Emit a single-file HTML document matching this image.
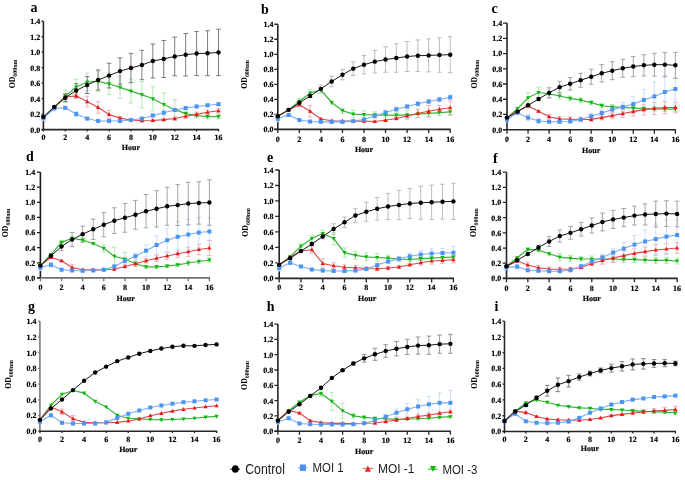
<!DOCTYPE html>
<html><head><meta charset="utf-8"><style>
html,body{margin:0;padding:0;background:#fff;width:685px;height:480px;overflow:hidden;}
svg{display:block;will-change:transform;}
.pl{font-family:"Liberation Serif",serif;font-weight:bold;font-size:14px;}
.tl{font-family:"Liberation Serif",serif;font-weight:bold;font-size:8px;text-rendering:geometricPrecision;stroke:#000;stroke-width:0.18px;}
.od{font-family:"Liberation Serif",serif;font-weight:bold;font-size:7.8px;}
.sub{font-size:5.9px;}
.lg{font-family:"Liberation Sans",sans-serif;font-size:13.3px;fill:#1a1a1a;}
</style></head><body>
<svg width="685" height="480" viewBox="0 0 685 480">
<rect width="685" height="480" fill="#fff"/>
<g><text x="30.5" y="12" class="pl">a</text><path d="M43.4 21.25V129.6" stroke="#262626" stroke-width="1.6" fill="none"/><path d="M41.6 129.6H219.1" stroke="#262626" stroke-width="1.6" fill="none"/><path d="M41.6 129.6H43.4M41.6 114.12H43.4M41.6 98.64H43.4M41.6 83.16H43.4M41.6 67.69H43.4M41.6 52.21H43.4M41.6 36.73H43.4M41.6 21.25H43.4" stroke="#262626" stroke-width="1.3" fill="none"/><path d="M43.4 129.6V131.4M65.29 129.6V131.4M87.17 129.6V131.4M109.06 129.6V131.4M130.95 129.6V131.4M152.84 129.6V131.4M174.72 129.6V131.4M196.61 129.6V131.4M218.5 129.6V131.4" stroke="#262626" stroke-width="1.3" fill="none"/><text transform="translate(40.3 132.5) scale(1 1)" class="tl" text-anchor="end">0.0</text><text transform="translate(40.3 117.02) scale(1 1)" class="tl" text-anchor="end">0.2</text><text transform="translate(40.3 101.54) scale(1 1)" class="tl" text-anchor="end">0.4</text><text transform="translate(40.3 86.06) scale(1 1)" class="tl" text-anchor="end">0.6</text><text transform="translate(40.3 70.59) scale(1 1)" class="tl" text-anchor="end">0.8</text><text transform="translate(40.3 55.11) scale(1 1)" class="tl" text-anchor="end">1.0</text><text transform="translate(40.3 39.63) scale(1 1)" class="tl" text-anchor="end">1.2</text><text transform="translate(40.3 24.15) scale(1 1)" class="tl" text-anchor="end">1.4</text><text transform="translate(43.4 139.7) scale(1 1)" class="tl" text-anchor="middle">0</text><text transform="translate(65.29 139.7) scale(1 1)" class="tl" text-anchor="middle">2</text><text transform="translate(87.17 139.7) scale(1 1)" class="tl" text-anchor="middle">4</text><text transform="translate(109.06 139.7) scale(1 1)" class="tl" text-anchor="middle">6</text><text transform="translate(130.95 139.7) scale(1 1)" class="tl" text-anchor="middle">8</text><text transform="translate(152.84 139.7) scale(1 1)" class="tl" text-anchor="middle">10</text><text transform="translate(174.72 139.7) scale(1 1)" class="tl" text-anchor="middle">12</text><text transform="translate(196.61 139.7) scale(1 1)" class="tl" text-anchor="middle">14</text><text transform="translate(218.5 139.7) scale(1 1)" class="tl" text-anchor="middle">16</text><text transform="translate(130.95 150) scale(1 1)" class="tl" text-anchor="middle">Hour</text><text transform="translate(15.2 73.97) rotate(-90)" class="od" text-anchor="middle">OD<tspan class="sub" dy="1.9">600nm</tspan></text><path d="M43.4 115.79V118.88M41.1 115.79H45.7M41.1 118.88H45.7M54.34 105.74V108.83M52.04 105.74H56.64M52.04 108.83H56.64M65.29 90.05V102.42M62.99 90.05H67.59M62.99 102.42H67.59M76.23 79.31V94.77M73.93 79.31H78.53M73.93 94.77H78.53M87.17 73.13V90.9M84.88 73.13H89.47M84.88 90.9H89.47M98.12 71.27V91.37M95.82 71.27H100.42M95.82 91.37H100.42M109.06 72.97V94.61M106.76 72.97H111.36M106.76 94.61H111.36M120.01 76.6V98.24M117.71 76.6H122.31M117.71 98.24H122.31M130.95 79.08V103.04M128.65 79.08H133.25M128.65 103.04H133.25M141.89 81.55V107.83M139.59 81.55H144.19M139.59 107.83H144.19M152.84 86.81V110.76M150.54 86.81H155.14M150.54 110.76H155.14M163.78 92.91V116.1M161.48 92.91H166.08M161.48 116.1H166.08M174.72 99.64V119.73M172.42 99.64H177.03M172.42 119.73H177.03M185.67 111.31V115.94M183.37 111.31H187.97M183.37 115.94H187.97M196.61 113.16V117.8M194.31 113.16H198.91M194.31 117.8H198.91M207.56 114.24V118.88M205.26 114.24H209.86M205.26 118.88H209.86M218.5 114.24V118.88M216.2 114.24H220.8M216.2 118.88H220.8" stroke="#ace6ac" stroke-width="0.9" fill="none"/><path d="M43.4 115.79V118.88M41.1 115.79H45.7M41.1 118.88H45.7M54.34 106.51V108.06M52.04 106.51H56.64M52.04 108.06H56.64M65.29 94.69V99.33M62.99 94.69H67.59M62.99 99.33H67.59M76.23 93.14V98.55M73.93 93.14H78.53M73.93 98.55H78.53M87.17 96.16V106.98M84.88 96.16H89.47M84.88 106.98H89.47M98.12 101.65V113.24M95.82 101.65H100.42M95.82 113.24H100.42M109.06 110.61V118.34M106.76 110.61H111.36M106.76 118.34H111.36M120.01 116.56V119.65M117.71 116.56H122.31M117.71 119.65H122.31M130.95 119.27V120.81M128.65 119.27H133.25M128.65 120.81H133.25M141.89 120.04V121.58M139.59 120.04H144.19M139.59 121.58H144.19M152.84 119.65V121.2M150.54 119.65H155.14M150.54 121.2H155.14M163.78 118.88V120.43M161.48 118.88H166.08M161.48 120.43H166.08M174.72 117.03V120.12M172.42 117.03H177.03M172.42 120.12H177.03M185.67 113.93V118.57M183.37 113.93H187.97M183.37 118.57H187.97M196.61 112.08V116.72M194.31 112.08H198.91M194.31 116.72H198.91M207.56 109.99V114.63M205.26 109.99H209.86M205.26 114.63H209.86M218.5 108.45V113.08M216.2 108.45H220.8M216.2 113.08H220.8" stroke="#f0a8b0" stroke-width="0.9" fill="none"/><path d="M43.4 115.79V120.43M41.1 115.79H45.7M41.1 120.43H45.7M54.34 107.75V109.3M52.04 107.75H56.64M52.04 109.3H56.64M65.29 107.06V108.6M62.99 107.06H67.59M62.99 108.6H67.59M76.23 111.69V116.33M73.93 111.69H78.53M73.93 116.33H78.53M87.17 117.8V119.34M84.88 117.8H89.47M84.88 119.34H89.47M98.12 120.19V121.74M95.82 120.19H100.42M95.82 121.74H100.42M109.06 120.19V121.74M106.76 120.19H111.36M106.76 121.74H111.36M120.01 120.19V121.74M117.71 120.19H122.31M117.71 121.74H122.31M130.95 119.27V120.81M128.65 119.27H133.25M128.65 120.81H133.25M141.89 117.8V119.34M139.59 117.8H144.19M139.59 119.34H144.19M152.84 113.93V117.03M150.54 113.93H155.14M150.54 117.03H155.14M163.78 111.15V114.24M161.48 111.15H166.08M161.48 114.24H166.08M174.72 108.45V111.54M172.42 108.45H177.03M172.42 111.54H177.03M185.67 106.51V109.61M183.37 106.51H187.97M183.37 109.61H187.97M196.61 104.97V108.06M194.31 104.97H198.91M194.31 108.06H198.91M207.56 103.73V106.82M205.26 103.73H209.86M205.26 106.82H209.86M218.5 102.65V105.74M216.2 102.65H220.8M216.2 105.74H220.8" stroke="#c4daf6" stroke-width="0.9" fill="none"/><path d="M43.4 115.32V118.42M41.1 115.32H45.7M41.1 118.42H45.7M54.34 106.13V107.67M52.04 106.13H56.64M52.04 107.67H56.64M65.29 93.84V101.57M62.99 93.84H67.59M62.99 101.57H67.59M76.23 83.72V97.16M73.93 83.72H78.53M73.93 97.16H78.53M87.17 76.53V93.53M84.88 76.53H89.47M84.88 93.53H89.47M98.12 69.88V89.98M95.82 69.88H100.42M95.82 89.98H100.42M109.06 63.23V87.97M106.76 63.23H111.36M106.76 87.97H111.36M120.01 57.98V84.26M117.71 57.98H122.31M117.71 84.26H122.31M130.95 53.34V82.71M128.65 53.34H133.25M128.65 82.71H133.25M141.89 50.33V79.7M139.59 50.33H144.19M139.59 79.7H144.19M152.84 43.99V78M150.54 43.99H155.14M150.54 78H155.14M163.78 40.44V77.53M161.48 40.44H166.08M161.48 77.53H166.08M174.72 37.11V75.75M172.42 37.11H177.03M172.42 75.75H177.03M185.67 33.48V75.99M183.37 33.48H187.97M183.37 75.99H187.97M196.61 31.55V75.6M194.31 31.55H198.91M194.31 75.6H198.91M207.56 30.77V75.6M205.26 30.77H209.86M205.26 75.6H209.86M218.5 29.23V75.6M216.2 29.23H220.8M216.2 75.6H220.8" stroke="#6e6e6e" stroke-width="0.9" fill="none"/><polyline points="43.4,117.33 54.34,107.29 65.29,96.24 76.23,87.04 87.17,82.01 98.12,81.32 109.06,83.79 120.01,87.42 130.95,91.06 141.89,94.69 152.84,98.79 163.78,104.5 174.72,109.68 185.67,113.62 196.61,115.48 207.56,116.56 218.5,116.56" stroke="#3cb43c" stroke-width="1.2" fill="none"/><path d="M43.4 119.67L45.5 115.77L41.3 115.77Z" fill="#0cb80c"/><path d="M54.34 109.63L56.44 105.73L52.24 105.73Z" fill="#0cb80c"/><path d="M65.29 98.58L67.39 94.68L63.19 94.68Z" fill="#0cb80c"/><path d="M76.23 89.38L78.33 85.48L74.13 85.48Z" fill="#0cb80c"/><path d="M87.17 84.35L89.27 80.45L85.08 80.45Z" fill="#0cb80c"/><path d="M98.12 83.66L100.22 79.76L96.02 79.76Z" fill="#0cb80c"/><path d="M109.06 86.13L111.16 82.23L106.96 82.23Z" fill="#0cb80c"/><path d="M120.01 89.76L122.11 85.86L117.91 85.86Z" fill="#0cb80c"/><path d="M130.95 93.4L133.05 89.5L128.85 89.5Z" fill="#0cb80c"/><path d="M141.89 97.03L143.99 93.13L139.79 93.13Z" fill="#0cb80c"/><path d="M152.84 101.13L154.94 97.23L150.74 97.23Z" fill="#0cb80c"/><path d="M163.78 106.84L165.88 102.94L161.68 102.94Z" fill="#0cb80c"/><path d="M174.72 112.02L176.82 108.12L172.62 108.12Z" fill="#0cb80c"/><path d="M185.67 115.96L187.77 112.06L183.57 112.06Z" fill="#0cb80c"/><path d="M196.61 117.82L198.71 113.92L194.51 113.92Z" fill="#0cb80c"/><path d="M207.56 118.9L209.66 115L205.46 115Z" fill="#0cb80c"/><path d="M218.5 118.9L220.6 115L216.4 115Z" fill="#0cb80c"/><polyline points="43.4,117.33 54.34,107.29 65.29,97.01 76.23,95.85 87.17,101.57 98.12,107.44 109.06,114.47 120.01,118.11 130.95,120.04 141.89,120.81 152.84,120.43 163.78,119.65 174.72,118.57 185.67,116.25 196.61,114.4 207.56,112.31 218.5,110.76" stroke="#d84848" stroke-width="1.1" fill="none"/><path d="M43.4 114.99L45.5 118.89L41.3 118.89Z" fill="#f01414"/><path d="M54.34 104.95L56.44 108.85L52.24 108.85Z" fill="#f01414"/><path d="M65.29 94.67L67.39 98.57L63.19 98.57Z" fill="#f01414"/><path d="M76.23 93.51L78.33 97.41L74.13 97.41Z" fill="#f01414"/><path d="M87.17 99.23L89.27 103.13L85.08 103.13Z" fill="#f01414"/><path d="M98.12 105.1L100.22 109L96.02 109Z" fill="#f01414"/><path d="M109.06 112.13L111.16 116.03L106.96 116.03Z" fill="#f01414"/><path d="M120.01 115.77L122.11 119.67L117.91 119.67Z" fill="#f01414"/><path d="M130.95 117.7L133.05 121.6L128.85 121.6Z" fill="#f01414"/><path d="M141.89 118.47L143.99 122.37L139.79 122.37Z" fill="#f01414"/><path d="M152.84 118.09L154.94 121.99L150.74 121.99Z" fill="#f01414"/><path d="M163.78 117.31L165.88 121.21L161.68 121.21Z" fill="#f01414"/><path d="M174.72 116.23L176.82 120.13L172.62 120.13Z" fill="#f01414"/><path d="M185.67 113.91L187.77 117.81L183.57 117.81Z" fill="#f01414"/><path d="M196.61 112.06L198.71 115.96L194.51 115.96Z" fill="#f01414"/><path d="M207.56 109.97L209.66 113.87L205.46 113.87Z" fill="#f01414"/><path d="M218.5 108.42L220.6 112.32L216.4 112.32Z" fill="#f01414"/><polyline points="43.4,118.11 54.34,108.52 65.29,107.83 76.23,114.01 87.17,118.57 98.12,120.97 109.06,120.97 120.01,120.97 130.95,120.04 141.89,118.57 152.84,115.48 163.78,112.7 174.72,109.99 185.67,108.06 196.61,106.51 207.56,105.28 218.5,104.2" stroke="#78acee" stroke-width="1.1" fill="none"/><rect x="41.4" y="116.11" width="4.0" height="4.0" fill="#4b94f2"/><rect x="52.34" y="106.52" width="4.0" height="4.0" fill="#4b94f2"/><rect x="63.29" y="105.83" width="4.0" height="4.0" fill="#4b94f2"/><rect x="74.23" y="112.01" width="4.0" height="4.0" fill="#4b94f2"/><rect x="85.17" y="116.57" width="4.0" height="4.0" fill="#4b94f2"/><rect x="96.12" y="118.97" width="4.0" height="4.0" fill="#4b94f2"/><rect x="107.06" y="118.97" width="4.0" height="4.0" fill="#4b94f2"/><rect x="118.01" y="118.97" width="4.0" height="4.0" fill="#4b94f2"/><rect x="128.95" y="118.04" width="4.0" height="4.0" fill="#4b94f2"/><rect x="139.89" y="116.57" width="4.0" height="4.0" fill="#4b94f2"/><rect x="150.84" y="113.48" width="4.0" height="4.0" fill="#4b94f2"/><rect x="161.78" y="110.7" width="4.0" height="4.0" fill="#4b94f2"/><rect x="172.72" y="107.99" width="4.0" height="4.0" fill="#4b94f2"/><rect x="183.67" y="106.06" width="4.0" height="4.0" fill="#4b94f2"/><rect x="194.61" y="104.51" width="4.0" height="4.0" fill="#4b94f2"/><rect x="205.56" y="103.28" width="4.0" height="4.0" fill="#4b94f2"/><rect x="216.5" y="102.2" width="4.0" height="4.0" fill="#4b94f2"/><polyline points="43.4,116.87 54.34,106.9 65.29,97.7 76.23,90.44 87.17,85.03 98.12,79.93 109.06,75.6 120.01,71.12 130.95,68.03 141.89,65.01 152.84,60.99 163.78,58.98 174.72,56.43 185.67,54.73 196.61,53.57 207.56,53.19 218.5,52.41" stroke="#1a1a1a" stroke-width="1.0" fill="none"/><circle cx="43.4" cy="116.87" r="2.2" fill="#000000"/><circle cx="54.34" cy="106.9" r="2.2" fill="#000000"/><circle cx="65.29" cy="97.7" r="2.2" fill="#000000"/><circle cx="76.23" cy="90.44" r="2.2" fill="#000000"/><circle cx="87.17" cy="85.03" r="2.2" fill="#000000"/><circle cx="98.12" cy="79.93" r="2.2" fill="#000000"/><circle cx="109.06" cy="75.6" r="2.2" fill="#000000"/><circle cx="120.01" cy="71.12" r="2.2" fill="#000000"/><circle cx="130.95" cy="68.03" r="2.2" fill="#000000"/><circle cx="141.89" cy="65.01" r="2.2" fill="#000000"/><circle cx="152.84" cy="60.99" r="2.2" fill="#000000"/><circle cx="163.78" cy="58.98" r="2.2" fill="#000000"/><circle cx="174.72" cy="56.43" r="2.2" fill="#000000"/><circle cx="185.67" cy="54.73" r="2.2" fill="#000000"/><circle cx="196.61" cy="53.57" r="2.2" fill="#000000"/><circle cx="207.56" cy="53.19" r="2.2" fill="#000000"/><circle cx="218.5" cy="52.41" r="2.2" fill="#000000"/></g>
<g><text x="261" y="13.6" class="pl">b</text><path d="M277.8 24.25V129.4" stroke="#262626" stroke-width="1.6" fill="none"/><path d="M274.3 129.4H450.8" stroke="#262626" stroke-width="1.6" fill="none"/><path d="M274.3 129.4H277.8M274.3 114.38H277.8M274.3 99.36H277.8M274.3 84.34H277.8M274.3 69.31H277.8M274.3 54.29H277.8M274.3 39.27H277.8M274.3 24.25H277.8" stroke="#262626" stroke-width="1.3" fill="none"/><path d="M277.8 129.4V132.9M299.35 129.4V132.9M320.9 129.4V132.9M342.45 129.4V132.9M364 129.4V132.9M385.55 129.4V132.9M407.1 129.4V132.9M428.65 129.4V132.9M450.2 129.4V132.9" stroke="#262626" stroke-width="1.3" fill="none"/><text transform="translate(273.4 132.3) scale(1 1)" class="tl" text-anchor="end">0.0</text><text transform="translate(273.4 117.28) scale(1 1)" class="tl" text-anchor="end">0.2</text><text transform="translate(273.4 102.26) scale(1 1)" class="tl" text-anchor="end">0.4</text><text transform="translate(273.4 87.24) scale(1 1)" class="tl" text-anchor="end">0.6</text><text transform="translate(273.4 72.21) scale(1 1)" class="tl" text-anchor="end">0.8</text><text transform="translate(273.4 57.19) scale(1 1)" class="tl" text-anchor="end">1.0</text><text transform="translate(273.4 42.17) scale(1 1)" class="tl" text-anchor="end">1.2</text><text transform="translate(273.4 27.15) scale(1 1)" class="tl" text-anchor="end">1.4</text><text transform="translate(277.8 141.5) scale(1 1)" class="tl" text-anchor="middle">0</text><text transform="translate(299.35 141.5) scale(1 1)" class="tl" text-anchor="middle">2</text><text transform="translate(320.9 141.5) scale(1 1)" class="tl" text-anchor="middle">4</text><text transform="translate(342.45 141.5) scale(1 1)" class="tl" text-anchor="middle">6</text><text transform="translate(364 141.5) scale(1 1)" class="tl" text-anchor="middle">8</text><text transform="translate(385.55 141.5) scale(1 1)" class="tl" text-anchor="middle">10</text><text transform="translate(407.1 141.5) scale(1 1)" class="tl" text-anchor="middle">12</text><text transform="translate(428.65 141.5) scale(1 1)" class="tl" text-anchor="middle">14</text><text transform="translate(450.2 141.5) scale(1 1)" class="tl" text-anchor="middle">16</text><text transform="translate(364 151.5) scale(1 1)" class="tl" text-anchor="middle">Hour</text><text transform="translate(247 74.42) rotate(-90)" class="od" text-anchor="middle">OD<tspan class="sub" dy="1.9">600nm</tspan></text><path d="M277.8 114.78V117.78M275.5 114.78H280.1M275.5 117.78H280.1M288.57 109.15V110.65M286.27 109.15H290.88M286.27 110.65H290.88M299.35 98.28V104.28M297.05 98.28H301.65M297.05 104.28H301.65M310.12 89.28V96.78M307.82 89.28H312.43M307.82 96.78H312.43M320.9 87.03V93.03M318.6 87.03H323.2M318.6 93.03H323.2M331.68 100.98V103.98M329.38 100.98H333.98M329.38 103.98H333.98M342.45 108.03V113.28M340.15 108.03H344.75M340.15 113.28H344.75M353.23 110.28V117.78M350.93 110.28H355.53M350.93 117.78H355.53M364 110.8V118.3M361.7 110.8H366.3M361.7 118.3H366.3M374.77 111.78V117.78M372.47 111.78H377.07M372.47 117.78H377.07M385.55 112.9V117.4M383.25 112.9H387.85M383.25 117.4H387.85M396.32 112.9V117.4M394.02 112.9H398.62M394.02 117.4H398.62M407.1 110.65V119.65M404.8 110.65H409.4M404.8 119.65H409.4M417.88 110.28V117.78M415.57 110.28H420.18M415.57 117.78H420.18M428.65 110.28V116.28M426.35 110.28H430.95M426.35 116.28H430.95M439.42 109.53V115.53M437.12 109.53H441.72M437.12 115.53H441.72M450.2 108.03V115.53M447.9 108.03H452.5M447.9 115.53H452.5" stroke="#ace6ac" stroke-width="0.9" fill="none"/><path d="M277.8 114.78V117.78M275.5 114.78H280.1M275.5 117.78H280.1M288.57 109.15V110.65M286.27 109.15H290.88M286.27 110.65H290.88M299.35 102.4V106.9M297.05 102.4H301.65M297.05 106.9H301.65M310.12 105.62V116.88M307.82 105.62H312.43M307.82 116.88H312.43M320.9 118.23V119.73M318.6 118.23H323.2M318.6 119.73H323.2M331.68 120.03V121.53M329.38 120.03H333.98M329.38 121.53H333.98M342.45 120.4V121.9M340.15 120.4H344.75M340.15 121.9H344.75M353.23 120.4V121.9M350.93 120.4H355.53M350.93 121.9H355.53M364 120.4V121.9M361.7 120.4H366.3M361.7 121.9H366.3M374.77 120.78V122.28M372.47 120.78H377.07M372.47 122.28H377.07M385.55 119.58V121.08M383.25 119.58H387.85M383.25 121.08H387.85M396.32 117.03V120.03M394.02 117.03H398.62M394.02 120.03H398.62M407.1 113.73V118.23M404.8 113.73H409.4M404.8 118.23H409.4M417.88 109V117.55M415.57 109H420.18M415.57 117.55H420.18M428.65 105.55V117.1M426.35 105.55H430.95M426.35 117.1H430.95M439.42 105.48V112.98M437.12 105.48H441.72M437.12 112.98H441.72M450.2 100.98V114.48M447.9 100.98H452.5M447.9 114.48H452.5" stroke="#f0a8b0" stroke-width="0.9" fill="none"/><path d="M277.8 115.75V121.75M275.5 115.75H280.1M275.5 121.75H280.1M288.57 113.43V116.43M286.27 113.43H290.88M286.27 116.43H290.88M299.35 119.28V120.78M297.05 119.28H301.65M297.05 120.78H301.65M310.12 120.78V122.28M307.82 120.78H312.43M307.82 122.28H312.43M320.9 121.08V122.58M318.6 121.08H323.2M318.6 122.58H323.2M331.68 121.15V122.65M329.38 121.15H333.98M329.38 122.65H333.98M342.45 121.15V122.65M340.15 121.15H344.75M340.15 122.65H344.75M353.23 120.4V121.9M350.93 120.4H355.53M350.93 121.9H355.53M364 118.08V121.08M361.7 118.08H366.3M361.7 121.08H366.3M374.77 113.73V118.23M372.47 113.73H377.07M372.47 118.23H377.07M385.55 110.28V114.78M383.25 110.28H387.85M383.25 114.78H387.85M396.32 106.97V111.48M394.02 106.97H398.62M394.02 111.48H398.62M407.1 104.28V108.78M404.8 104.28H409.4M404.8 108.78H409.4M417.88 101.58V106.08M415.57 101.58H420.18M415.57 106.08H420.18M428.65 99.33V103.83M426.35 99.33H430.95M426.35 103.83H430.95M439.42 97.22V101.73M437.12 97.22H441.72M437.12 101.73H441.72M450.2 94.98V99.48M447.9 94.98H452.5M447.9 99.48H452.5" stroke="#c4daf6" stroke-width="0.9" fill="none"/><path d="M277.8 114.78V117.78M275.5 114.78H280.1M275.5 117.78H280.1M288.57 109.08V110.58M286.27 109.08H290.88M286.27 110.58H290.88M299.35 102.03V103.53M297.05 102.03H301.65M297.05 103.53H301.65M310.12 94.53V97.53M307.82 94.53H312.43M307.82 97.53H312.43M320.9 85.08V92.58M318.6 85.08H323.2M318.6 92.58H323.2M331.68 76.22V86.73M329.38 76.22H333.98M329.38 86.73H333.98M342.45 69.63V79.83M340.15 69.63H344.75M340.15 79.83H344.75M353.23 61.9V75.4M350.93 61.9H355.53M350.93 75.4H355.53M364 55.45V73.9M361.7 55.45H366.3M361.7 73.9H366.3M374.77 50.43V72.93M372.47 50.43H377.07M372.47 72.93H377.07M385.55 46.75V72.25M383.25 46.75H387.85M383.25 72.25H387.85M396.32 43.75V72.25M394.02 43.75H398.62M394.02 72.25H398.62M407.1 41.5V71.5M404.8 41.5H409.4M404.8 71.5H409.4M417.88 39.92V71.43M415.57 39.92H420.18M415.57 71.43H420.18M428.65 38.88V71.88M426.35 38.88H430.95M426.35 71.88H430.95M439.42 37.75V72.25M437.12 37.75H441.72M437.12 72.25H441.72M450.2 36.7V72.7M447.9 36.7H452.5M447.9 72.7H452.5" stroke="#b4b4b4" stroke-width="0.9" fill="none"/><polyline points="277.8,116.28 288.57,109.9 299.35,101.28 310.12,93.03 320.9,90.03 331.68,102.48 342.45,110.65 353.23,114.03 364,114.55 374.77,114.78 385.55,115.15 396.32,115.15 407.1,115.15 417.88,114.03 428.65,113.28 439.42,112.53 450.2,111.78" stroke="#3cb43c" stroke-width="1.2" fill="none"/><path d="M277.8 118.62L279.9 114.72L275.7 114.72Z" fill="#0cb80c"/><path d="M288.57 112.24L290.68 108.34L286.47 108.34Z" fill="#0cb80c"/><path d="M299.35 103.62L301.45 99.72L297.25 99.72Z" fill="#0cb80c"/><path d="M310.12 95.37L312.23 91.47L308.02 91.47Z" fill="#0cb80c"/><path d="M320.9 92.37L323 88.47L318.8 88.47Z" fill="#0cb80c"/><path d="M331.68 104.82L333.78 100.92L329.57 100.92Z" fill="#0cb80c"/><path d="M342.45 112.99L344.55 109.09L340.35 109.09Z" fill="#0cb80c"/><path d="M353.23 116.37L355.33 112.47L351.12 112.47Z" fill="#0cb80c"/><path d="M364 116.89L366.1 112.99L361.9 112.99Z" fill="#0cb80c"/><path d="M374.77 117.12L376.88 113.22L372.67 113.22Z" fill="#0cb80c"/><path d="M385.55 117.49L387.65 113.59L383.45 113.59Z" fill="#0cb80c"/><path d="M396.32 117.49L398.43 113.59L394.22 113.59Z" fill="#0cb80c"/><path d="M407.1 117.49L409.2 113.59L405 113.59Z" fill="#0cb80c"/><path d="M417.88 116.37L419.98 112.47L415.77 112.47Z" fill="#0cb80c"/><path d="M428.65 115.62L430.75 111.72L426.55 111.72Z" fill="#0cb80c"/><path d="M439.42 114.87L441.52 110.97L437.32 110.97Z" fill="#0cb80c"/><path d="M450.2 114.12L452.3 110.22L448.1 110.22Z" fill="#0cb80c"/><polyline points="277.8,116.28 288.57,109.9 299.35,104.65 310.12,111.25 320.9,118.98 331.68,120.78 342.45,121.15 353.23,121.15 364,121.15 374.77,121.53 385.55,120.33 396.32,118.53 407.1,115.98 417.88,113.28 428.65,111.33 439.42,109.23 450.2,107.73" stroke="#d84848" stroke-width="1.1" fill="none"/><path d="M277.8 113.94L279.9 117.84L275.7 117.84Z" fill="#f01414"/><path d="M288.57 107.56L290.68 111.46L286.47 111.46Z" fill="#f01414"/><path d="M299.35 102.31L301.45 106.21L297.25 106.21Z" fill="#f01414"/><path d="M310.12 108.91L312.23 112.81L308.02 112.81Z" fill="#f01414"/><path d="M320.9 116.64L323 120.54L318.8 120.54Z" fill="#f01414"/><path d="M331.68 118.44L333.78 122.34L329.57 122.34Z" fill="#f01414"/><path d="M342.45 118.81L344.55 122.71L340.35 122.71Z" fill="#f01414"/><path d="M353.23 118.81L355.33 122.71L351.12 122.71Z" fill="#f01414"/><path d="M364 118.81L366.1 122.71L361.9 122.71Z" fill="#f01414"/><path d="M374.77 119.19L376.88 123.09L372.67 123.09Z" fill="#f01414"/><path d="M385.55 117.98L387.65 121.89L383.45 121.89Z" fill="#f01414"/><path d="M396.32 116.19L398.43 120.09L394.22 120.09Z" fill="#f01414"/><path d="M407.1 113.64L409.2 117.54L405 117.54Z" fill="#f01414"/><path d="M417.88 110.94L419.98 114.84L415.77 114.84Z" fill="#f01414"/><path d="M428.65 108.98L430.75 112.89L426.55 112.89Z" fill="#f01414"/><path d="M439.42 106.89L441.52 110.79L437.32 110.79Z" fill="#f01414"/><path d="M450.2 105.39L452.3 109.29L448.1 109.29Z" fill="#f01414"/><polyline points="277.8,118.75 288.57,114.93 299.35,120.03 310.12,121.53 320.9,121.83 331.68,121.9 342.45,121.9 353.23,121.15 364,119.58 374.77,115.98 385.55,112.53 396.32,109.23 407.1,106.53 417.88,103.83 428.65,101.58 439.42,99.48 450.2,97.23" stroke="#78acee" stroke-width="1.1" fill="none"/><rect x="275.8" y="116.75" width="4.0" height="4.0" fill="#4b94f2"/><rect x="286.57" y="112.93" width="4.0" height="4.0" fill="#4b94f2"/><rect x="297.35" y="118.03" width="4.0" height="4.0" fill="#4b94f2"/><rect x="308.12" y="119.53" width="4.0" height="4.0" fill="#4b94f2"/><rect x="318.9" y="119.83" width="4.0" height="4.0" fill="#4b94f2"/><rect x="329.68" y="119.9" width="4.0" height="4.0" fill="#4b94f2"/><rect x="340.45" y="119.9" width="4.0" height="4.0" fill="#4b94f2"/><rect x="351.23" y="119.15" width="4.0" height="4.0" fill="#4b94f2"/><rect x="362" y="117.58" width="4.0" height="4.0" fill="#4b94f2"/><rect x="372.77" y="113.98" width="4.0" height="4.0" fill="#4b94f2"/><rect x="383.55" y="110.53" width="4.0" height="4.0" fill="#4b94f2"/><rect x="394.32" y="107.23" width="4.0" height="4.0" fill="#4b94f2"/><rect x="405.1" y="104.53" width="4.0" height="4.0" fill="#4b94f2"/><rect x="415.88" y="101.83" width="4.0" height="4.0" fill="#4b94f2"/><rect x="426.65" y="99.58" width="4.0" height="4.0" fill="#4b94f2"/><rect x="437.42" y="97.48" width="4.0" height="4.0" fill="#4b94f2"/><rect x="448.2" y="95.23" width="4.0" height="4.0" fill="#4b94f2"/><polyline points="277.8,116.28 288.57,109.83 299.35,102.78 310.12,96.03 320.9,88.83 331.68,81.47 342.45,74.73 353.23,68.65 364,64.68 374.77,61.67 385.55,59.5 396.32,58 407.1,56.5 417.88,55.68 428.65,55.38 439.42,55 450.2,54.7" stroke="#1a1a1a" stroke-width="1.0" fill="none"/><circle cx="277.8" cy="116.28" r="2.2" fill="#000000"/><circle cx="288.57" cy="109.83" r="2.2" fill="#000000"/><circle cx="299.35" cy="102.78" r="2.2" fill="#000000"/><circle cx="310.12" cy="96.03" r="2.2" fill="#000000"/><circle cx="320.9" cy="88.83" r="2.2" fill="#000000"/><circle cx="331.68" cy="81.47" r="2.2" fill="#000000"/><circle cx="342.45" cy="74.73" r="2.2" fill="#000000"/><circle cx="353.23" cy="68.65" r="2.2" fill="#000000"/><circle cx="364" cy="64.68" r="2.2" fill="#000000"/><circle cx="374.77" cy="61.67" r="2.2" fill="#000000"/><circle cx="385.55" cy="59.5" r="2.2" fill="#000000"/><circle cx="396.32" cy="58" r="2.2" fill="#000000"/><circle cx="407.1" cy="56.5" r="2.2" fill="#000000"/><circle cx="417.88" cy="55.68" r="2.2" fill="#000000"/><circle cx="428.65" cy="55.38" r="2.2" fill="#000000"/><circle cx="439.42" cy="55" r="2.2" fill="#000000"/><circle cx="450.2" cy="54.7" r="2.2" fill="#000000"/></g>
<g><text x="491.6" y="12.6" class="pl">c</text><path d="M507 23.1V129.7" stroke="#262626" stroke-width="1.6" fill="none"/><path d="M503 129.7H676" stroke="#262626" stroke-width="1.6" fill="none"/><path d="M503 129.7H507M503 114.47H507M503 99.24H507M503 84.01H507M503 68.79H507M503 53.56H507M503 38.33H507M503 23.1H507" stroke="#262626" stroke-width="1.3" fill="none"/><path d="M507 129.7V133.7M528.05 129.7V133.7M549.1 129.7V133.7M570.15 129.7V133.7M591.2 129.7V133.7M612.25 129.7V133.7M633.3 129.7V133.7M654.35 129.7V133.7M675.4 129.7V133.7" stroke="#262626" stroke-width="1.3" fill="none"/><text transform="translate(502.3 132.6) scale(1 1)" class="tl" text-anchor="end">0.0</text><text transform="translate(502.3 117.37) scale(1 1)" class="tl" text-anchor="end">0.2</text><text transform="translate(502.3 102.14) scale(1 1)" class="tl" text-anchor="end">0.4</text><text transform="translate(502.3 86.91) scale(1 1)" class="tl" text-anchor="end">0.6</text><text transform="translate(502.3 71.69) scale(1 1)" class="tl" text-anchor="end">0.8</text><text transform="translate(502.3 56.46) scale(1 1)" class="tl" text-anchor="end">1.0</text><text transform="translate(502.3 41.23) scale(1 1)" class="tl" text-anchor="end">1.2</text><text transform="translate(502.3 26) scale(1 1)" class="tl" text-anchor="end">1.4</text><text transform="translate(507 142) scale(1 1)" class="tl" text-anchor="middle">0</text><text transform="translate(528.05 142) scale(1 1)" class="tl" text-anchor="middle">2</text><text transform="translate(549.1 142) scale(1 1)" class="tl" text-anchor="middle">4</text><text transform="translate(570.15 142) scale(1 1)" class="tl" text-anchor="middle">6</text><text transform="translate(591.2 142) scale(1 1)" class="tl" text-anchor="middle">8</text><text transform="translate(612.25 142) scale(1 1)" class="tl" text-anchor="middle">10</text><text transform="translate(633.3 142) scale(1 1)" class="tl" text-anchor="middle">12</text><text transform="translate(654.35 142) scale(1 1)" class="tl" text-anchor="middle">14</text><text transform="translate(675.4 142) scale(1 1)" class="tl" text-anchor="middle">16</text><text transform="translate(591.2 152.5) scale(1 1)" class="tl" text-anchor="middle">Hour</text><text transform="translate(477 74.1) rotate(-90)" class="od" text-anchor="middle">OD<tspan class="sub" dy="1.9">600nm</tspan></text><path d="M507 116.85V118.37M504.7 116.85H509.3M504.7 118.37H509.3M517.52 107.2V110.24M515.23 107.2H519.82M515.23 110.24H519.82M528.05 92.46V103.1M525.75 92.46H530.35M525.75 103.1H530.35M538.58 87.21V97.85M536.28 87.21H540.88M536.28 97.85H540.88M549.1 90.1V97.7M546.8 90.1H551.4M546.8 97.7H551.4M559.62 92.99V99.07M557.33 92.99H561.92M557.33 99.07H561.92M570.15 96.1V100.66M567.85 96.1H572.45M567.85 100.66H572.45M580.67 97.85V102.41M578.38 97.85H582.97M578.38 102.41H582.97M591.2 100.36V104.92M588.9 100.36H593.5M588.9 104.92H593.5M601.73 103.32V107.88M599.43 103.32H604.02M599.43 107.88H604.02M612.25 104.69V109.25M609.95 104.69H614.55M609.95 109.25H614.55M622.77 105.15V109.71M620.48 105.15H625.07M620.48 109.71H625.07M633.3 105.76V110.32M631 105.76H635.6M631 110.32H635.6M643.83 106.29V110.85M641.53 106.29H646.12M641.53 110.85H646.12M654.35 106.74V111.3M652.05 106.74H656.65M652.05 111.3H656.65M664.88 106.9V111.46M662.58 106.9H667.17M662.58 111.46H667.17M675.4 106.9V111.46M673.1 106.9H677.7M673.1 111.46H677.7" stroke="#ace6ac" stroke-width="0.9" fill="none"/><path d="M507 116.85V118.37M504.7 116.85H509.3M504.7 118.37H509.3M517.52 110.54V112.06M515.23 110.54H519.82M515.23 112.06H519.82M528.05 105.22V106.74M525.75 105.22H530.35M525.75 106.74H530.35M538.58 110.54V112.06M536.28 110.54H540.88M536.28 112.06H540.88M549.1 114.5V119.06M546.8 114.5H551.4M546.8 119.06H551.4M559.62 116.55V121.11M557.33 116.55H561.92M557.33 121.11H561.92M570.15 116.93V121.49M567.85 116.93H572.45M567.85 121.49H572.45M580.67 117.23V121.79M578.38 117.23H582.97M578.38 121.79H582.97M591.2 117.08V121.64M588.9 117.08H593.5M588.9 121.64H593.5M601.73 115.33V119.89M599.43 115.33H604.02M599.43 119.89H604.02M612.25 112.6V118.68M609.95 112.6H614.55M609.95 118.68H614.55M622.77 109.78V117.38M620.48 109.78H625.07M620.48 117.38H625.07M633.3 107.05V116.17M631 107.05H635.6M631 116.17H635.6M643.83 104.31V114.95M641.53 104.31H646.12M641.53 114.95H646.12M654.35 102.34V114.5M652.05 102.34H656.65M652.05 114.5H656.65M664.88 101.35V113.51M662.58 101.35H667.17M662.58 113.51H667.17M675.4 102.11V112.75M673.1 102.11H677.7M673.1 112.75H677.7" stroke="#f0a8b0" stroke-width="0.9" fill="none"/><path d="M507 117.23V121.79M504.7 117.23H509.3M504.7 121.79H509.3M517.52 112.06V113.58M515.23 112.06H519.82M515.23 113.58H519.82M528.05 114.65V120.73M525.75 114.65H530.35M525.75 120.73H530.35M538.58 118.75V123.31M536.28 118.75H540.88M536.28 123.31H540.88M549.1 121.03V122.55M546.8 121.03H551.4M546.8 122.55H551.4M559.62 121.03V122.55M557.33 121.03H561.92M557.33 122.55H561.92M570.15 120.73V122.25M567.85 120.73H572.45M567.85 122.25H572.45M580.67 117.99V121.03M578.38 117.99H582.97M578.38 121.03H582.97M591.2 113.89V118.45M588.9 113.89H593.5M588.9 118.45H593.5M601.73 109.94V116.02M599.43 109.94H604.02M599.43 116.02H604.02M612.25 105.83V113.43M609.95 105.83H614.55M609.95 113.43H614.55M622.77 102.41V111.53M620.48 102.41H625.07M620.48 111.53H625.07M633.3 96.41V111.61M631 96.41H635.6M631 111.61H635.6M643.83 89.34V110.62M641.53 89.34H646.12M641.53 110.62H646.12M654.35 81.97V110.85M652.05 81.97H656.65M652.05 110.85H656.65M664.88 75.66V108.34M662.58 75.66H667.17M662.58 108.34H667.17M675.4 78.4V99.68M673.1 78.4H677.7M673.1 99.68H677.7" stroke="#c4daf6" stroke-width="0.9" fill="none"/><path d="M507 116.85V118.37M504.7 116.85H509.3M504.7 118.37H509.3M517.52 110.85V112.37M515.23 110.85H519.82M515.23 112.37H519.82M528.05 104.54V106.06M525.75 104.54H530.35M525.75 106.06H530.35M538.58 97.47V100.51M536.28 97.47H540.88M536.28 100.51H540.88M549.1 87.74V97.93M546.8 87.74H551.4M546.8 97.93H551.4M559.62 81.28V92.99M557.33 81.28H561.92M557.33 92.99H561.92M570.15 77.48V90.1M567.85 77.48H572.45M567.85 90.1H572.45M580.67 73.23V87.21M578.38 73.23H582.97M578.38 87.21H582.97M591.2 69.2V84.25M588.9 69.2H593.5M588.9 84.25H593.5M601.73 64.64V81.97M599.43 64.64H604.02M599.43 81.97H604.02M612.25 61.75V79.69M609.95 61.75H614.55M609.95 79.69H614.55M622.77 59.32V77.26M620.48 59.32H625.07M620.48 77.26H625.07M633.3 56.43V76.65M631 56.43H635.6M631 76.65H635.6M643.83 54.68V75.96M641.53 54.68H646.12M641.53 75.96H646.12M654.35 53.32V76.12M652.05 53.32H656.65M652.05 76.12H656.65M664.88 52.48V76.8M662.58 52.48H667.17M662.58 76.8H667.17M675.4 52.4V78.24M673.1 52.4H677.7M673.1 78.24H677.7" stroke="#9a9a9a" stroke-width="0.9" fill="none"/><polyline points="507,117.61 517.52,108.72 528.05,97.78 538.58,92.53 549.1,93.9 559.62,96.03 570.15,98.38 580.67,100.13 591.2,102.64 601.73,105.6 612.25,106.97 622.77,107.43 633.3,108.04 643.83,108.57 654.35,109.02 664.88,109.18 675.4,109.18" stroke="#3cb43c" stroke-width="1.2" fill="none"/><path d="M507 119.95L509.1 116.05L504.9 116.05Z" fill="#0cb80c"/><path d="M517.52 111.06L519.62 107.16L515.42 107.16Z" fill="#0cb80c"/><path d="M528.05 100.12L530.15 96.22L525.95 96.22Z" fill="#0cb80c"/><path d="M538.58 94.87L540.68 90.97L536.48 90.97Z" fill="#0cb80c"/><path d="M549.1 96.24L551.2 92.34L547 92.34Z" fill="#0cb80c"/><path d="M559.62 98.37L561.73 94.47L557.52 94.47Z" fill="#0cb80c"/><path d="M570.15 100.72L572.25 96.82L568.05 96.82Z" fill="#0cb80c"/><path d="M580.67 102.47L582.77 98.57L578.57 98.57Z" fill="#0cb80c"/><path d="M591.2 104.98L593.3 101.08L589.1 101.08Z" fill="#0cb80c"/><path d="M601.73 107.94L603.83 104.04L599.62 104.04Z" fill="#0cb80c"/><path d="M612.25 109.31L614.35 105.41L610.15 105.41Z" fill="#0cb80c"/><path d="M622.77 109.77L624.88 105.87L620.67 105.87Z" fill="#0cb80c"/><path d="M633.3 110.38L635.4 106.48L631.2 106.48Z" fill="#0cb80c"/><path d="M643.83 110.91L645.93 107.01L641.73 107.01Z" fill="#0cb80c"/><path d="M654.35 111.36L656.45 107.46L652.25 107.46Z" fill="#0cb80c"/><path d="M664.88 111.52L666.98 107.62L662.77 107.62Z" fill="#0cb80c"/><path d="M675.4 111.52L677.5 107.62L673.3 107.62Z" fill="#0cb80c"/><polyline points="507,117.61 517.52,111.3 528.05,105.98 538.58,111.3 549.1,116.78 559.62,118.83 570.15,119.21 580.67,119.51 591.2,119.36 601.73,117.61 612.25,115.64 622.77,113.58 633.3,111.61 643.83,109.63 654.35,108.42 664.88,107.43 675.4,107.43" stroke="#d84848" stroke-width="1.1" fill="none"/><path d="M507 115.27L509.1 119.17L504.9 119.17Z" fill="#f01414"/><path d="M517.52 108.96L519.62 112.86L515.42 112.86Z" fill="#f01414"/><path d="M528.05 103.64L530.15 107.54L525.95 107.54Z" fill="#f01414"/><path d="M538.58 108.96L540.68 112.86L536.48 112.86Z" fill="#f01414"/><path d="M549.1 114.44L551.2 118.34L547 118.34Z" fill="#f01414"/><path d="M559.62 116.49L561.73 120.39L557.52 120.39Z" fill="#f01414"/><path d="M570.15 116.87L572.25 120.77L568.05 120.77Z" fill="#f01414"/><path d="M580.67 117.17L582.77 121.07L578.57 121.07Z" fill="#f01414"/><path d="M591.2 117.02L593.3 120.92L589.1 120.92Z" fill="#f01414"/><path d="M601.73 115.27L603.83 119.17L599.62 119.17Z" fill="#f01414"/><path d="M612.25 113.3L614.35 117.2L610.15 117.2Z" fill="#f01414"/><path d="M622.77 111.24L624.88 115.14L620.67 115.14Z" fill="#f01414"/><path d="M633.3 109.27L635.4 113.17L631.2 113.17Z" fill="#f01414"/><path d="M643.83 107.29L645.93 111.19L641.73 111.19Z" fill="#f01414"/><path d="M654.35 106.08L656.45 109.98L652.25 109.98Z" fill="#f01414"/><path d="M664.88 105.09L666.98 108.99L662.77 108.99Z" fill="#f01414"/><path d="M675.4 105.09L677.5 108.99L673.3 108.99Z" fill="#f01414"/><polyline points="507,119.51 517.52,112.82 528.05,117.69 538.58,121.03 549.1,121.79 559.62,121.79 570.15,121.49 580.67,119.51 591.2,116.17 601.73,112.98 612.25,109.63 622.77,106.97 633.3,104.01 643.83,99.98 654.35,96.41 664.88,92 675.4,89.04" stroke="#78acee" stroke-width="1.1" fill="none"/><rect x="505" y="117.51" width="4.0" height="4.0" fill="#4b94f2"/><rect x="515.52" y="110.82" width="4.0" height="4.0" fill="#4b94f2"/><rect x="526.05" y="115.69" width="4.0" height="4.0" fill="#4b94f2"/><rect x="536.58" y="119.03" width="4.0" height="4.0" fill="#4b94f2"/><rect x="547.1" y="119.79" width="4.0" height="4.0" fill="#4b94f2"/><rect x="557.62" y="119.79" width="4.0" height="4.0" fill="#4b94f2"/><rect x="568.15" y="119.49" width="4.0" height="4.0" fill="#4b94f2"/><rect x="578.67" y="117.51" width="4.0" height="4.0" fill="#4b94f2"/><rect x="589.2" y="114.17" width="4.0" height="4.0" fill="#4b94f2"/><rect x="599.73" y="110.98" width="4.0" height="4.0" fill="#4b94f2"/><rect x="610.25" y="107.63" width="4.0" height="4.0" fill="#4b94f2"/><rect x="620.77" y="104.97" width="4.0" height="4.0" fill="#4b94f2"/><rect x="631.3" y="102.01" width="4.0" height="4.0" fill="#4b94f2"/><rect x="641.83" y="97.98" width="4.0" height="4.0" fill="#4b94f2"/><rect x="652.35" y="94.41" width="4.0" height="4.0" fill="#4b94f2"/><rect x="662.88" y="90" width="4.0" height="4.0" fill="#4b94f2"/><rect x="673.4" y="87.04" width="4.0" height="4.0" fill="#4b94f2"/><polyline points="507,117.61 517.52,111.61 528.05,105.3 538.58,98.99 549.1,92.84 559.62,87.14 570.15,83.79 580.67,80.22 591.2,76.72 601.73,73.3 612.25,70.72 622.77,68.29 633.3,66.54 643.83,65.32 654.35,64.72 664.88,64.64 675.4,65.32" stroke="#1a1a1a" stroke-width="1.0" fill="none"/><circle cx="507" cy="117.61" r="2.2" fill="#000000"/><circle cx="517.52" cy="111.61" r="2.2" fill="#000000"/><circle cx="528.05" cy="105.3" r="2.2" fill="#000000"/><circle cx="538.58" cy="98.99" r="2.2" fill="#000000"/><circle cx="549.1" cy="92.84" r="2.2" fill="#000000"/><circle cx="559.62" cy="87.14" r="2.2" fill="#000000"/><circle cx="570.15" cy="83.79" r="2.2" fill="#000000"/><circle cx="580.67" cy="80.22" r="2.2" fill="#000000"/><circle cx="591.2" cy="76.72" r="2.2" fill="#000000"/><circle cx="601.73" cy="73.3" r="2.2" fill="#000000"/><circle cx="612.25" cy="70.72" r="2.2" fill="#000000"/><circle cx="622.77" cy="68.29" r="2.2" fill="#000000"/><circle cx="633.3" cy="66.54" r="2.2" fill="#000000"/><circle cx="643.83" cy="65.32" r="2.2" fill="#000000"/><circle cx="654.35" cy="64.72" r="2.2" fill="#000000"/><circle cx="664.88" cy="64.64" r="2.2" fill="#000000"/><circle cx="675.4" cy="65.32" r="2.2" fill="#000000"/></g>
<g><text x="26" y="161" class="pl">d</text><path d="M40.4 172.1V277.9" stroke="#1a1a1a" stroke-width="1.6" fill="none"/><path d="M37 277.9H210" stroke="#707070" stroke-width="1.6" fill="none"/><path d="M37 277.9H40.4M37 262.79H40.4M37 247.67H40.4M37 232.56H40.4M37 217.44H40.4M37 202.33H40.4M37 187.21H40.4M37 172.1H40.4" stroke="#1a1a1a" stroke-width="1.3" fill="none"/><path d="M40.4 277.9V281.3M61.52 277.9V281.3M82.65 277.9V281.3M103.78 277.9V281.3M124.9 277.9V281.3M146.03 277.9V281.3M167.15 277.9V281.3M188.28 277.9V281.3M209.4 277.9V281.3" stroke="#707070" stroke-width="1.3" fill="none"/><text transform="translate(35.2 280.8) scale(1 1)" class="tl" text-anchor="end">0.0</text><text transform="translate(35.2 265.69) scale(1 1)" class="tl" text-anchor="end">0.2</text><text transform="translate(35.2 250.57) scale(1 1)" class="tl" text-anchor="end">0.4</text><text transform="translate(35.2 235.46) scale(1 1)" class="tl" text-anchor="end">0.6</text><text transform="translate(35.2 220.34) scale(1 1)" class="tl" text-anchor="end">0.8</text><text transform="translate(35.2 205.23) scale(1 1)" class="tl" text-anchor="end">1.0</text><text transform="translate(35.2 190.11) scale(1 1)" class="tl" text-anchor="end">1.2</text><text transform="translate(35.2 175) scale(1 1)" class="tl" text-anchor="end">1.4</text><text transform="translate(40.4 289.6) scale(1 1)" class="tl" text-anchor="middle">0</text><text transform="translate(61.52 289.6) scale(1 1)" class="tl" text-anchor="middle">2</text><text transform="translate(82.65 289.6) scale(1 1)" class="tl" text-anchor="middle">4</text><text transform="translate(103.78 289.6) scale(1 1)" class="tl" text-anchor="middle">6</text><text transform="translate(124.9 289.6) scale(1 1)" class="tl" text-anchor="middle">8</text><text transform="translate(146.03 289.6) scale(1 1)" class="tl" text-anchor="middle">10</text><text transform="translate(167.15 289.6) scale(1 1)" class="tl" text-anchor="middle">12</text><text transform="translate(188.28 289.6) scale(1 1)" class="tl" text-anchor="middle">14</text><text transform="translate(209.4 289.6) scale(1 1)" class="tl" text-anchor="middle">16</text><text transform="translate(125.6 301.2) scale(1 1)" class="tl" text-anchor="middle">Hour</text><text transform="translate(8.3 222.9) rotate(-90)" class="od" text-anchor="middle">OD<tspan class="sub" dy="1.9">600nm</tspan></text><path d="M40.4 264.83V266.34M38.1 264.83H42.7M38.1 266.34H42.7M50.96 253.77V255.29M48.66 253.77H53.26M48.66 255.29H53.26M61.52 240.75V243.78M59.23 240.75H63.82M59.23 243.78H63.82M72.09 237.57V239.08M69.79 237.57H74.39M69.79 239.08H74.39M82.65 238.25V242.04M80.35 238.25H84.95M80.35 242.04H84.95M93.21 242.72V244.23M90.91 242.72H95.51M90.91 244.23H95.51M103.78 244.53V252.11M101.48 244.53H106.08M101.48 252.11H106.08M114.34 247.18V265.36M112.04 247.18H116.64M112.04 265.36H116.64M124.9 252.26V265.89M122.6 252.26H127.2M122.6 265.89H127.2M135.46 260.74V266.79M133.16 260.74H137.76M133.16 266.79H137.76M146.03 265.28V268.31M143.72 265.28H148.33M143.72 268.31H148.33M156.59 265.28V268.31M154.29 265.28H158.89M154.29 268.31H158.89M167.15 264.52V267.55M164.85 264.52H169.45M164.85 267.55H169.45M177.71 263.31V266.34M175.41 263.31H180.01M175.41 266.34H180.01M188.28 260.74V265.28M185.97 260.74H190.58M185.97 265.28H190.58M198.84 259.22V263.77M196.54 259.22H201.14M196.54 263.77H201.14M209.4 257.71V262.25M207.1 257.71H211.7M207.1 262.25H211.7" stroke="#ace6ac" stroke-width="0.9" fill="none"/><path d="M40.4 264.83V266.34M38.1 264.83H42.7M38.1 266.34H42.7M50.96 256.57V258.09M48.66 256.57H53.26M48.66 258.09H53.26M61.52 260.06V261.57M59.23 260.06H63.82M59.23 261.57H63.82M72.09 264.45V270.5M69.79 264.45H74.39M69.79 270.5H74.39M82.65 268.99V270.5M80.35 268.99H84.95M80.35 270.5H84.95M93.21 268.99V270.5M90.91 268.99H95.51M90.91 270.5H95.51M103.78 268.99V270.5M101.48 268.99H106.08M101.48 270.5H106.08M114.34 268.54V270.05M112.04 268.54H116.64M112.04 270.05H116.64M124.9 264.98V268.01M122.6 264.98H127.2M122.6 268.01H127.2M135.46 261.49V266.04M133.16 261.49H137.76M133.16 266.04H137.76M146.03 258.54V263.08M143.72 258.54H148.33M143.72 263.08H148.33M156.59 255.21V261.27M154.29 255.21H158.89M154.29 261.27H158.89M167.15 252.18V259.75M164.85 252.18H169.45M164.85 259.75H169.45M177.71 249.91V257.48M175.41 249.91H180.01M175.41 257.48H180.01M188.28 247.26V256.35M185.97 247.26H190.58M185.97 256.35H190.58M198.84 244.23V254.83M196.54 244.23H201.14M196.54 254.83H201.14M209.4 240.45V255.59M207.1 240.45H211.7M207.1 255.59H211.7" stroke="#f0a8b0" stroke-width="0.9" fill="none"/><path d="M40.4 264.45V270.5M38.1 264.45H42.7M38.1 270.5H42.7M50.96 262.55V267.1M48.66 262.55H53.26M48.66 267.1H53.26M61.52 268.99V270.5M59.23 268.99H63.82M59.23 270.5H63.82M72.09 269.75V271.26M69.79 269.75H74.39M69.79 271.26H74.39M82.65 270.05V271.56M80.35 270.05H84.95M80.35 271.56H84.95M93.21 269.75V271.26M90.91 269.75H95.51M90.91 271.26H95.51M103.78 268.99V270.5M101.48 268.99H106.08M101.48 270.5H106.08M114.34 264.98V268.01M112.04 264.98H116.64M112.04 268.01H116.64M124.9 258.54V263.08M122.6 258.54H127.2M122.6 263.08H127.2M135.46 253.24V259.3M133.16 253.24H137.76M133.16 259.3H137.76M146.03 244.99V256.35M143.72 244.99H148.33M143.72 256.35H148.33M156.59 235.9V254.07M154.29 235.9H158.89M154.29 254.07H158.89M167.15 228.1V252.33M164.85 228.1H169.45M164.85 252.33H169.45M177.71 221.67V251.95M175.41 221.67H180.01M175.41 251.95H180.01M188.28 219.4V249.68M185.97 219.4H190.58M185.97 249.68H190.58M198.84 217.43V247.71M196.54 217.43H201.14M196.54 247.71H201.14M209.4 217.88V245.14M207.1 217.88H211.7M207.1 245.14H211.7" stroke="#c4daf6" stroke-width="0.9" fill="none"/><path d="M40.4 264.07V267.1M38.1 264.07H42.7M38.1 267.1H42.7M50.96 255.06V256.57M48.66 255.06H53.26M48.66 256.57H53.26M61.52 242.34V250.67M59.23 242.34H63.82M59.23 250.67H63.82M72.09 232.42V246.65M69.79 232.42H74.39M69.79 246.65H74.39M82.65 226.14V242.19M80.35 226.14H84.95M80.35 242.19H84.95M93.21 219.17V239.46M90.91 219.17H95.51M90.91 239.46H95.51M103.78 212.66V236.89M101.48 212.66H106.08M101.48 236.89H106.08M114.34 207.81V233.56M112.04 207.81H116.64M112.04 233.56H116.64M124.9 203.42V232.19M122.6 203.42H127.2M122.6 232.19H127.2M135.46 200.39V229.16M133.16 200.39H137.76M133.16 229.16H137.76M146.03 194.56V227.88M143.72 194.56H148.33M143.72 227.88H148.33M156.59 190.63V226.97M154.29 190.63H158.89M154.29 226.97H158.89M167.15 187.37V225.23M164.85 187.37H169.45M164.85 225.23H169.45M177.71 184.64V225.53M175.41 184.64H180.01M175.41 225.53H180.01M188.28 182.37V224.77M185.97 182.37H190.58M185.97 224.77H190.58M198.84 181.77V224.17M196.54 181.77H201.14M196.54 224.17H201.14M209.4 179.8V225.23M207.1 179.8H211.7M207.1 225.23H211.7" stroke="#9a9a9a" stroke-width="0.9" fill="none"/><polyline points="40.4,265.58 50.96,254.53 61.52,242.26 72.09,238.33 82.65,240.14 93.21,243.47 103.78,248.32 114.34,256.27 124.9,259.07 135.46,263.77 146.03,266.79 156.59,266.79 167.15,266.04 177.71,264.83 188.28,263.01 198.84,261.49 209.4,259.98" stroke="#3cb43c" stroke-width="1.2" fill="none"/><path d="M40.4 267.92L42.5 264.02L38.3 264.02Z" fill="#0cb80c"/><path d="M50.96 256.87L53.06 252.97L48.86 252.97Z" fill="#0cb80c"/><path d="M61.52 244.6L63.62 240.7L59.42 240.7Z" fill="#0cb80c"/><path d="M72.09 240.67L74.19 236.77L69.99 236.77Z" fill="#0cb80c"/><path d="M82.65 242.48L84.75 238.58L80.55 238.58Z" fill="#0cb80c"/><path d="M93.21 245.81L95.31 241.91L91.11 241.91Z" fill="#0cb80c"/><path d="M103.78 250.66L105.88 246.76L101.68 246.76Z" fill="#0cb80c"/><path d="M114.34 258.61L116.44 254.71L112.24 254.71Z" fill="#0cb80c"/><path d="M124.9 261.41L127 257.51L122.8 257.51Z" fill="#0cb80c"/><path d="M135.46 266.11L137.56 262.21L133.36 262.21Z" fill="#0cb80c"/><path d="M146.03 269.13L148.12 265.23L143.93 265.23Z" fill="#0cb80c"/><path d="M156.59 269.13L158.69 265.23L154.49 265.23Z" fill="#0cb80c"/><path d="M167.15 268.38L169.25 264.48L165.05 264.48Z" fill="#0cb80c"/><path d="M177.71 267.17L179.81 263.27L175.61 263.27Z" fill="#0cb80c"/><path d="M188.28 265.35L190.38 261.45L186.18 261.45Z" fill="#0cb80c"/><path d="M198.84 263.83L200.94 259.93L196.74 259.93Z" fill="#0cb80c"/><path d="M209.4 262.32L211.5 258.42L207.3 258.42Z" fill="#0cb80c"/><polyline points="40.4,265.58 50.96,257.33 61.52,260.81 72.09,267.48 82.65,269.75 93.21,269.75 103.78,269.75 114.34,269.29 124.9,266.49 135.46,263.77 146.03,260.81 156.59,258.24 167.15,255.97 177.71,253.7 188.28,251.8 198.84,249.53 209.4,248.02" stroke="#d84848" stroke-width="1.1" fill="none"/><path d="M40.4 263.24L42.5 267.14L38.3 267.14Z" fill="#f01414"/><path d="M50.96 254.99L53.06 258.89L48.86 258.89Z" fill="#f01414"/><path d="M61.52 258.47L63.62 262.37L59.42 262.37Z" fill="#f01414"/><path d="M72.09 265.14L74.19 269.04L69.99 269.04Z" fill="#f01414"/><path d="M82.65 267.41L84.75 271.31L80.55 271.31Z" fill="#f01414"/><path d="M93.21 267.41L95.31 271.31L91.11 271.31Z" fill="#f01414"/><path d="M103.78 267.41L105.88 271.31L101.68 271.31Z" fill="#f01414"/><path d="M114.34 266.95L116.44 270.85L112.24 270.85Z" fill="#f01414"/><path d="M124.9 264.15L127 268.05L122.8 268.05Z" fill="#f01414"/><path d="M135.46 261.43L137.56 265.33L133.36 265.33Z" fill="#f01414"/><path d="M146.03 258.47L148.12 262.37L143.93 262.37Z" fill="#f01414"/><path d="M156.59 255.9L158.69 259.8L154.49 259.8Z" fill="#f01414"/><path d="M167.15 253.63L169.25 257.53L165.05 257.53Z" fill="#f01414"/><path d="M177.71 251.36L179.81 255.26L175.61 255.26Z" fill="#f01414"/><path d="M188.28 249.46L190.38 253.36L186.18 253.36Z" fill="#f01414"/><path d="M198.84 247.19L200.94 251.09L196.74 251.09Z" fill="#f01414"/><path d="M209.4 245.68L211.5 249.58L207.3 249.58Z" fill="#f01414"/><polyline points="40.4,267.48 50.96,264.83 61.52,269.75 72.09,270.5 82.65,270.81 93.21,270.5 103.78,269.75 114.34,266.49 124.9,260.81 135.46,256.27 146.03,250.67 156.59,244.99 167.15,240.22 177.71,236.81 188.28,234.54 198.84,232.57 209.4,231.51" stroke="#78acee" stroke-width="1.1" fill="none"/><rect x="38.4" y="265.48" width="4.0" height="4.0" fill="#4b94f2"/><rect x="48.96" y="262.83" width="4.0" height="4.0" fill="#4b94f2"/><rect x="59.52" y="267.75" width="4.0" height="4.0" fill="#4b94f2"/><rect x="70.09" y="268.5" width="4.0" height="4.0" fill="#4b94f2"/><rect x="80.65" y="268.81" width="4.0" height="4.0" fill="#4b94f2"/><rect x="91.21" y="268.5" width="4.0" height="4.0" fill="#4b94f2"/><rect x="101.78" y="267.75" width="4.0" height="4.0" fill="#4b94f2"/><rect x="112.34" y="264.49" width="4.0" height="4.0" fill="#4b94f2"/><rect x="122.9" y="258.81" width="4.0" height="4.0" fill="#4b94f2"/><rect x="133.46" y="254.27" width="4.0" height="4.0" fill="#4b94f2"/><rect x="144.03" y="248.67" width="4.0" height="4.0" fill="#4b94f2"/><rect x="154.59" y="242.99" width="4.0" height="4.0" fill="#4b94f2"/><rect x="165.15" y="238.22" width="4.0" height="4.0" fill="#4b94f2"/><rect x="175.71" y="234.81" width="4.0" height="4.0" fill="#4b94f2"/><rect x="186.28" y="232.54" width="4.0" height="4.0" fill="#4b94f2"/><rect x="196.84" y="230.57" width="4.0" height="4.0" fill="#4b94f2"/><rect x="207.4" y="229.51" width="4.0" height="4.0" fill="#4b94f2"/><polyline points="40.4,265.58 50.96,255.82 61.52,246.5 72.09,239.54 82.65,234.16 93.21,229.32 103.78,224.77 114.34,220.68 124.9,217.81 135.46,214.78 146.03,211.22 156.59,208.8 167.15,206.3 177.71,205.09 188.28,203.57 198.84,202.97 209.4,202.51" stroke="#1a1a1a" stroke-width="1.0" fill="none"/><circle cx="40.4" cy="265.58" r="2.2" fill="#000000"/><circle cx="50.96" cy="255.82" r="2.2" fill="#000000"/><circle cx="61.52" cy="246.5" r="2.2" fill="#000000"/><circle cx="72.09" cy="239.54" r="2.2" fill="#000000"/><circle cx="82.65" cy="234.16" r="2.2" fill="#000000"/><circle cx="93.21" cy="229.32" r="2.2" fill="#000000"/><circle cx="103.78" cy="224.77" r="2.2" fill="#000000"/><circle cx="114.34" cy="220.68" r="2.2" fill="#000000"/><circle cx="124.9" cy="217.81" r="2.2" fill="#000000"/><circle cx="135.46" cy="214.78" r="2.2" fill="#000000"/><circle cx="146.03" cy="211.22" r="2.2" fill="#000000"/><circle cx="156.59" cy="208.8" r="2.2" fill="#000000"/><circle cx="167.15" cy="206.3" r="2.2" fill="#000000"/><circle cx="177.71" cy="205.09" r="2.2" fill="#000000"/><circle cx="188.28" cy="203.57" r="2.2" fill="#000000"/><circle cx="198.84" cy="202.97" r="2.2" fill="#000000"/><circle cx="209.4" cy="202.51" r="2.2" fill="#000000"/></g>
<g><text x="267" y="162" class="pl">e</text><path d="M279.2 170V278.4" stroke="#262626" stroke-width="1.6" fill="none"/><path d="M275.2 278.4H454" stroke="#262626" stroke-width="1.6" fill="none"/><path d="M275.2 278.4H279.2M275.2 262.91H279.2M275.2 247.43H279.2M275.2 231.94H279.2M275.2 216.46H279.2M275.2 200.97H279.2M275.2 185.49H279.2M275.2 170H279.2" stroke="#262626" stroke-width="1.3" fill="none"/><path d="M279.2 278.4V282.4M300.97 278.4V282.4M322.75 278.4V282.4M344.52 278.4V282.4M366.3 278.4V282.4M388.07 278.4V282.4M409.85 278.4V282.4M431.62 278.4V282.4M453.4 278.4V282.4" stroke="#262626" stroke-width="1.3" fill="none"/><text transform="translate(273.4 281.3) scale(1 1)" class="tl" text-anchor="end">0.0</text><text transform="translate(273.4 265.81) scale(1 1)" class="tl" text-anchor="end">0.2</text><text transform="translate(273.4 250.33) scale(1 1)" class="tl" text-anchor="end">0.4</text><text transform="translate(273.4 234.84) scale(1 1)" class="tl" text-anchor="end">0.6</text><text transform="translate(273.4 219.36) scale(1 1)" class="tl" text-anchor="end">0.8</text><text transform="translate(273.4 203.87) scale(1 1)" class="tl" text-anchor="end">1.0</text><text transform="translate(273.4 188.39) scale(1 1)" class="tl" text-anchor="end">1.2</text><text transform="translate(273.4 172.9) scale(1 1)" class="tl" text-anchor="end">1.4</text><text transform="translate(279.2 290.3) scale(1 1)" class="tl" text-anchor="middle">0</text><text transform="translate(300.97 290.3) scale(1 1)" class="tl" text-anchor="middle">2</text><text transform="translate(322.75 290.3) scale(1 1)" class="tl" text-anchor="middle">4</text><text transform="translate(344.52 290.3) scale(1 1)" class="tl" text-anchor="middle">6</text><text transform="translate(366.3 290.3) scale(1 1)" class="tl" text-anchor="middle">8</text><text transform="translate(388.07 290.3) scale(1 1)" class="tl" text-anchor="middle">10</text><text transform="translate(409.85 290.3) scale(1 1)" class="tl" text-anchor="middle">12</text><text transform="translate(431.62 290.3) scale(1 1)" class="tl" text-anchor="middle">14</text><text transform="translate(453.4 290.3) scale(1 1)" class="tl" text-anchor="middle">16</text><text transform="translate(367.1 300.9) scale(1 1)" class="tl" text-anchor="middle">Hour</text><text transform="translate(248.3 222.35) rotate(-90)" class="od" text-anchor="middle">OD<tspan class="sub" dy="1.9">600nm</tspan></text><path d="M279.2 263.19V266.28M276.9 263.19H281.5M276.9 266.28H281.5M290.09 255.26V258.34M287.79 255.26H292.39M287.79 258.34H292.39M300.97 243.23V249.4M298.67 243.23H303.27M298.67 249.4H303.27M311.86 235.45V241.61M309.56 235.45H314.16M309.56 241.61H314.16M322.75 230.44V236.6M320.45 230.44H325.05M320.45 236.6H325.05M333.64 232.37V244.7M331.34 232.37H335.94M331.34 244.7H335.94M344.52 248.01V257.26M342.22 248.01H346.82M342.22 257.26H346.82M355.41 251.48V259.19M353.11 251.48H357.71M353.11 259.19H357.71M366.3 252.94V260.65M364 252.94H368.6M364 260.65H368.6M377.19 253.64V261.34M374.89 253.64H379.49M374.89 261.34H379.49M388.07 254.95V261.11M385.77 254.95H390.38M385.77 261.11H390.38M398.96 256.72V261.34M396.66 256.72H401.26M396.66 261.34H401.26M409.85 257.18V261.81M407.55 257.18H412.15M407.55 261.81H412.15M420.74 257.03V260.11M418.44 257.03H423.04M418.44 260.11H423.04M431.62 256.49V259.57M429.32 256.49H433.93M429.32 259.57H433.93M442.51 255.95V259.03M440.21 255.95H444.81M440.21 259.03H444.81M453.4 255.49V258.57M451.1 255.49H455.7M451.1 258.57H455.7" stroke="#ace6ac" stroke-width="0.9" fill="none"/><path d="M279.2 263.19V266.28M276.9 263.19H281.5M276.9 266.28H281.5M290.09 256.72V258.26M287.79 256.72H292.39M287.79 258.26H292.39M300.97 250.01V251.56M298.67 250.01H303.27M298.67 251.56H303.27M311.86 246.24V253.17M309.56 246.24H314.16M309.56 253.17H314.16M322.75 258.88V268.13M320.45 258.88H325.05M320.45 268.13H325.05M333.64 262.73V268.9M331.34 262.73H335.94M331.34 268.9H335.94M344.52 264.97V269.59M342.22 264.97H346.82M342.22 269.59H346.82M355.41 265.43V270.05M353.11 265.43H357.71M353.11 270.05H357.71M366.3 266.97V270.05M364 266.97H368.6M364 270.05H368.6M377.19 267.28V270.36M374.89 267.28H379.49M374.89 270.36H379.49M388.07 266.43V269.51M385.77 266.43H390.38M385.77 269.51H390.38M398.96 265.43V268.51M396.66 265.43H401.26M396.66 268.51H401.26M409.85 263.19V266.28M407.55 263.19H412.15M407.55 266.28H412.15M420.74 260.5V265.12M418.44 260.5H423.04M418.44 265.12H423.04M431.62 257.95V264.12M429.32 257.95H433.93M429.32 264.12H433.93M442.51 257.41V263.58M440.21 257.41H444.81M440.21 263.58H444.81M453.4 256.72V262.89M451.1 256.72H455.7M451.1 262.89H455.7" stroke="#f0a8b0" stroke-width="0.9" fill="none"/><path d="M279.2 264.89V271.06M276.9 264.89H281.5M276.9 271.06H281.5M290.09 261.27V264.35M287.79 261.27H292.39M287.79 264.35H292.39M300.97 265.74V267.28M298.67 265.74H303.27M298.67 267.28H303.27M311.86 268.74V270.28M309.56 268.74H314.16M309.56 270.28H314.16M322.75 269.82V271.36M320.45 269.82H325.05M320.45 271.36H325.05M333.64 270.21V271.75M331.34 270.21H335.94M331.34 271.75H335.94M344.52 270.21V271.75M342.22 270.21H346.82M342.22 271.75H346.82M355.41 269.82V271.36M353.11 269.82H357.71M353.11 271.36H357.71M366.3 268.28V269.82M364 268.28H368.6M364 269.82H368.6M377.19 263.5V266.59M374.89 263.5H379.49M374.89 266.59H379.49M388.07 260.03V263.12M385.77 260.03H390.38M385.77 263.12H390.38M398.96 256.41V261.04M396.66 256.41H401.26M396.66 261.04H401.26M409.85 253.25V259.42M407.55 253.25H412.15M407.55 259.42H412.15M420.74 250.63V258.34M418.44 250.63H423.04M418.44 258.34H423.04M431.62 248.86V258.11M429.32 248.86H433.93M429.32 258.11H433.93M442.51 248.4V257.64M440.21 248.4H444.81M440.21 257.64H444.81M453.4 246.55V258.88M451.1 246.55H455.7M451.1 258.88H455.7" stroke="#c4daf6" stroke-width="0.9" fill="none"/><path d="M279.2 263.19V266.28M276.9 263.19H281.5M276.9 266.28H281.5M290.09 257.49V259.03M287.79 257.49H292.39M287.79 259.03H292.39M300.97 250.32V251.86M298.67 250.32H303.27M298.67 251.86H303.27M311.86 242.46V245.54M309.56 242.46H314.16M309.56 245.54H314.16M322.75 234.22V238.84M320.45 234.22H325.05M320.45 238.84H325.05M333.64 223.73V234.22M331.34 223.73H335.94M331.34 234.22H335.94M344.52 217.03V227.51M342.22 217.03H346.82M342.22 227.51H346.82M355.41 208.4V222.58M353.11 208.4H357.71M353.11 222.58H357.71M366.3 202.31V221.27M364 202.31H368.6M364 221.27H368.6M377.19 197.53V220.03M374.89 197.53H379.49M374.89 220.03H379.49M388.07 193.37V219.57M385.77 193.37H390.38M385.77 219.57H390.38M398.96 190.36V219.65M396.66 190.36H401.26M396.66 219.65H401.26M409.85 188.43V218.49M407.55 188.43H412.15M407.55 218.49H412.15M420.74 186.28V219.26M418.44 186.28H423.04M418.44 219.26H423.04M431.62 185.2V219.42M429.32 185.2H433.93M429.32 219.42H433.93M442.51 184.27V219.11M440.21 184.27H444.81M440.21 219.11H444.81M453.4 183.27V219.49M451.1 183.27H455.7M451.1 219.49H455.7" stroke="#b4b4b4" stroke-width="0.9" fill="none"/><polyline points="279.2,264.74 290.09,256.8 300.97,246.32 311.86,238.53 322.75,233.52 333.64,238.53 344.52,252.64 355.41,255.33 366.3,256.8 377.19,257.49 388.07,258.03 398.96,259.03 409.85,259.49 420.74,258.57 431.62,258.03 442.51,257.49 453.4,257.03" stroke="#3cb43c" stroke-width="1.2" fill="none"/><path d="M279.2 267.08L281.3 263.18L277.1 263.18Z" fill="#0cb80c"/><path d="M290.09 259.14L292.19 255.24L287.99 255.24Z" fill="#0cb80c"/><path d="M300.97 248.66L303.07 244.76L298.87 244.76Z" fill="#0cb80c"/><path d="M311.86 240.87L313.96 236.97L309.76 236.97Z" fill="#0cb80c"/><path d="M322.75 235.86L324.85 231.96L320.65 231.96Z" fill="#0cb80c"/><path d="M333.64 240.87L335.74 236.97L331.54 236.97Z" fill="#0cb80c"/><path d="M344.52 254.98L346.62 251.08L342.42 251.08Z" fill="#0cb80c"/><path d="M355.41 257.67L357.51 253.77L353.31 253.77Z" fill="#0cb80c"/><path d="M366.3 259.14L368.4 255.24L364.2 255.24Z" fill="#0cb80c"/><path d="M377.19 259.83L379.29 255.93L375.09 255.93Z" fill="#0cb80c"/><path d="M388.07 260.37L390.18 256.47L385.97 256.47Z" fill="#0cb80c"/><path d="M398.96 261.37L401.06 257.47L396.86 257.47Z" fill="#0cb80c"/><path d="M409.85 261.83L411.95 257.93L407.75 257.93Z" fill="#0cb80c"/><path d="M420.74 260.91L422.84 257.01L418.64 257.01Z" fill="#0cb80c"/><path d="M431.62 260.37L433.73 256.47L429.52 256.47Z" fill="#0cb80c"/><path d="M442.51 259.83L444.61 255.93L440.41 255.93Z" fill="#0cb80c"/><path d="M453.4 259.37L455.5 255.47L451.3 255.47Z" fill="#0cb80c"/><polyline points="279.2,264.74 290.09,257.49 300.97,250.79 311.86,249.71 322.75,263.5 333.64,265.81 344.52,267.28 355.41,267.74 366.3,268.51 377.19,268.82 388.07,267.97 398.96,266.97 409.85,264.74 420.74,262.81 431.62,261.04 442.51,260.5 453.4,259.8" stroke="#d84848" stroke-width="1.1" fill="none"/><path d="M279.2 262.4L281.3 266.3L277.1 266.3Z" fill="#f01414"/><path d="M290.09 255.15L292.19 259.05L287.99 259.05Z" fill="#f01414"/><path d="M300.97 248.45L303.07 252.35L298.87 252.35Z" fill="#f01414"/><path d="M311.86 247.37L313.96 251.27L309.76 251.27Z" fill="#f01414"/><path d="M322.75 261.16L324.85 265.06L320.65 265.06Z" fill="#f01414"/><path d="M333.64 263.47L335.74 267.37L331.54 267.37Z" fill="#f01414"/><path d="M344.52 264.94L346.62 268.84L342.42 268.84Z" fill="#f01414"/><path d="M355.41 265.4L357.51 269.3L353.31 269.3Z" fill="#f01414"/><path d="M366.3 266.17L368.4 270.07L364.2 270.07Z" fill="#f01414"/><path d="M377.19 266.48L379.29 270.38L375.09 270.38Z" fill="#f01414"/><path d="M388.07 265.63L390.18 269.53L385.97 269.53Z" fill="#f01414"/><path d="M398.96 264.63L401.06 268.53L396.86 268.53Z" fill="#f01414"/><path d="M409.85 262.4L411.95 266.3L407.75 266.3Z" fill="#f01414"/><path d="M420.74 260.47L422.84 264.37L418.64 264.37Z" fill="#f01414"/><path d="M431.62 258.7L433.73 262.6L429.52 262.6Z" fill="#f01414"/><path d="M442.51 258.16L444.61 262.06L440.41 262.06Z" fill="#f01414"/><path d="M453.4 257.46L455.5 261.36L451.3 261.36Z" fill="#f01414"/><polyline points="279.2,267.97 290.09,262.81 300.97,266.51 311.86,269.51 322.75,270.59 333.64,270.98 344.52,270.98 355.41,270.59 366.3,269.05 377.19,265.04 388.07,261.58 398.96,258.72 409.85,256.33 420.74,254.48 431.62,253.48 442.51,253.02 453.4,252.71" stroke="#78acee" stroke-width="1.1" fill="none"/><rect x="277.2" y="265.97" width="4.0" height="4.0" fill="#4b94f2"/><rect x="288.09" y="260.81" width="4.0" height="4.0" fill="#4b94f2"/><rect x="298.97" y="264.51" width="4.0" height="4.0" fill="#4b94f2"/><rect x="309.86" y="267.51" width="4.0" height="4.0" fill="#4b94f2"/><rect x="320.75" y="268.59" width="4.0" height="4.0" fill="#4b94f2"/><rect x="331.64" y="268.98" width="4.0" height="4.0" fill="#4b94f2"/><rect x="342.52" y="268.98" width="4.0" height="4.0" fill="#4b94f2"/><rect x="353.41" y="268.59" width="4.0" height="4.0" fill="#4b94f2"/><rect x="364.3" y="267.05" width="4.0" height="4.0" fill="#4b94f2"/><rect x="375.19" y="263.04" width="4.0" height="4.0" fill="#4b94f2"/><rect x="386.07" y="259.58" width="4.0" height="4.0" fill="#4b94f2"/><rect x="396.96" y="256.72" width="4.0" height="4.0" fill="#4b94f2"/><rect x="407.85" y="254.33" width="4.0" height="4.0" fill="#4b94f2"/><rect x="418.74" y="252.48" width="4.0" height="4.0" fill="#4b94f2"/><rect x="429.62" y="251.48" width="4.0" height="4.0" fill="#4b94f2"/><rect x="440.51" y="251.02" width="4.0" height="4.0" fill="#4b94f2"/><rect x="451.4" y="250.71" width="4.0" height="4.0" fill="#4b94f2"/><polyline points="279.2,264.74 290.09,258.26 300.97,251.09 311.86,244 322.75,236.53 333.64,228.97 344.52,222.27 355.41,215.49 366.3,211.79 377.19,208.78 388.07,206.47 398.96,205.01 409.85,203.46 420.74,202.77 431.62,202.31 442.51,201.69 453.4,201.38" stroke="#1a1a1a" stroke-width="1.0" fill="none"/><circle cx="279.2" cy="264.74" r="2.2" fill="#000000"/><circle cx="290.09" cy="258.26" r="2.2" fill="#000000"/><circle cx="300.97" cy="251.09" r="2.2" fill="#000000"/><circle cx="311.86" cy="244" r="2.2" fill="#000000"/><circle cx="322.75" cy="236.53" r="2.2" fill="#000000"/><circle cx="333.64" cy="228.97" r="2.2" fill="#000000"/><circle cx="344.52" cy="222.27" r="2.2" fill="#000000"/><circle cx="355.41" cy="215.49" r="2.2" fill="#000000"/><circle cx="366.3" cy="211.79" r="2.2" fill="#000000"/><circle cx="377.19" cy="208.78" r="2.2" fill="#000000"/><circle cx="388.07" cy="206.47" r="2.2" fill="#000000"/><circle cx="398.96" cy="205.01" r="2.2" fill="#000000"/><circle cx="409.85" cy="203.46" r="2.2" fill="#000000"/><circle cx="420.74" cy="202.77" r="2.2" fill="#000000"/><circle cx="431.62" cy="202.31" r="2.2" fill="#000000"/><circle cx="442.51" cy="201.69" r="2.2" fill="#000000"/><circle cx="453.4" cy="201.38" r="2.2" fill="#000000"/></g>
<g><text x="493" y="163" class="pl">f</text><path d="M506.5 172.1V278.4" stroke="#262626" stroke-width="1.6" fill="none"/><path d="M502.7 278.4H677.7" stroke="#262626" stroke-width="1.6" fill="none"/><path d="M502.7 278.4H506.5M502.7 263.21H506.5M502.7 248.03H506.5M502.7 232.84H506.5M502.7 217.66H506.5M502.7 202.47H506.5M502.7 187.29H506.5M502.7 172.1H506.5" stroke="#262626" stroke-width="1.3" fill="none"/><path d="M506.5 278.4V282.2M527.83 278.4V282.2M549.15 278.4V282.2M570.48 278.4V282.2M591.8 278.4V282.2M613.12 278.4V282.2M634.45 278.4V282.2M655.78 278.4V282.2M677.1 278.4V282.2" stroke="#262626" stroke-width="1.3" fill="none"/><text transform="translate(501.3 281.3) scale(1 1)" class="tl" text-anchor="end">0.0</text><text transform="translate(501.3 266.11) scale(1 1)" class="tl" text-anchor="end">0.2</text><text transform="translate(501.3 250.93) scale(1 1)" class="tl" text-anchor="end">0.4</text><text transform="translate(501.3 235.74) scale(1 1)" class="tl" text-anchor="end">0.6</text><text transform="translate(501.3 220.56) scale(1 1)" class="tl" text-anchor="end">0.8</text><text transform="translate(501.3 205.37) scale(1 1)" class="tl" text-anchor="end">1.0</text><text transform="translate(501.3 190.19) scale(1 1)" class="tl" text-anchor="end">1.2</text><text transform="translate(501.3 175) scale(1 1)" class="tl" text-anchor="end">1.4</text><text transform="translate(506.5 290.8) scale(1 1)" class="tl" text-anchor="middle">0</text><text transform="translate(527.83 290.8) scale(1 1)" class="tl" text-anchor="middle">2</text><text transform="translate(549.15 290.8) scale(1 1)" class="tl" text-anchor="middle">4</text><text transform="translate(570.48 290.8) scale(1 1)" class="tl" text-anchor="middle">6</text><text transform="translate(591.8 290.8) scale(1 1)" class="tl" text-anchor="middle">8</text><text transform="translate(613.12 290.8) scale(1 1)" class="tl" text-anchor="middle">10</text><text transform="translate(634.45 290.8) scale(1 1)" class="tl" text-anchor="middle">12</text><text transform="translate(655.78 290.8) scale(1 1)" class="tl" text-anchor="middle">14</text><text transform="translate(677.1 290.8) scale(1 1)" class="tl" text-anchor="middle">16</text><text transform="translate(591.8 300.9) scale(1 1)" class="tl" text-anchor="middle">Hour</text><text transform="translate(476.4 222.75) rotate(-90)" class="od" text-anchor="middle">OD<tspan class="sub" dy="1.9">600nm</tspan></text><path d="M506.5 265.54V267.05M504.2 265.54H508.8M504.2 267.05H508.8M517.16 256.95V258.45M514.86 256.95H519.46M514.86 258.45H519.46M527.83 247.83V250.84M525.53 247.83H530.12M525.53 250.84H530.12M538.49 248.66V251.67M536.19 248.66H540.79M536.19 251.67H540.79M549.15 252.28V255.29M546.85 252.28H551.45M546.85 255.29H551.45M559.81 253.41V260.94M557.51 253.41H562.11M557.51 260.94H562.11M570.48 255.37V261.39M568.18 255.37H572.77M568.18 261.39H572.77M581.14 256.65V261.17M578.84 256.65H583.44M578.84 261.17H583.44M591.8 255.97V262M589.5 255.97H594.1M589.5 262H594.1M602.46 255.97V262M600.16 255.97H604.76M600.16 262H604.76M613.12 255.97V262M610.83 255.97H615.42M610.83 262H615.42M623.79 256.42V262.45M621.49 256.42H626.09M621.49 262.45H626.09M634.45 256.65V262.68M632.15 256.65H636.75M632.15 262.68H636.75M645.11 257.02V263.05M642.81 257.02H647.41M642.81 263.05H647.41M655.78 257.4V263.43M653.48 257.4H658.08M653.48 263.43H658.08M666.44 257.4V263.43M664.14 257.4H668.74M664.14 263.43H668.74M677.1 258V264.03M674.8 258H679.4M674.8 264.03H679.4" stroke="#ace6ac" stroke-width="0.9" fill="none"/><path d="M506.5 265.54V267.05M504.2 265.54H508.8M504.2 267.05H508.8M517.16 260.26V261.77M514.86 260.26H519.46M514.86 261.77H519.46M527.83 262V268.03M525.53 262H530.12M525.53 268.03H530.12M538.49 265.54V270.06M536.19 265.54H540.79M536.19 270.06H540.79M549.15 267.05V271.57M546.85 267.05H551.45M546.85 271.57H551.45M559.81 267.05V271.57M557.51 267.05H562.11M557.51 271.57H562.11M570.48 267.5V270.51M568.18 267.5H572.77M568.18 270.51H572.77M581.14 265.99V269M578.84 265.99H583.44M578.84 269H583.44M591.8 261.32V265.84M589.5 261.32H594.1M589.5 265.84H594.1M602.46 256.65V264.18M600.16 256.65H604.76M600.16 264.18H604.76M613.12 253.48V262.52M610.83 253.48H615.42M610.83 262.52H615.42M623.79 251.07V260.11M621.49 251.07H626.09M621.49 260.11H626.09M634.45 248.88V257.93M632.15 248.88H636.75M632.15 257.93H636.75M645.11 247.08V256.12M642.81 247.08H647.41M642.81 256.12H647.41M655.78 244.74V255.29M653.48 244.74H658.08M653.48 255.29H658.08M666.44 243.76V254.31M664.14 243.76H668.74M664.14 254.31H668.74M677.1 242.71V253.26M674.8 242.71H679.4M674.8 253.26H679.4" stroke="#f0a8b0" stroke-width="0.9" fill="none"/><path d="M506.5 265.24V269.76M504.2 265.24H508.8M504.2 269.76H508.8M517.16 264.33V268.85M514.86 264.33H519.46M514.86 268.85H519.46M527.83 269.53V271.04M525.53 269.53H530.12M525.53 271.04H530.12M538.49 270.06V271.57M536.19 270.06H540.79M536.19 271.57H540.79M549.15 270.44V271.94M546.85 270.44H551.45M546.85 271.94H551.45M559.81 270.44V271.94M557.51 270.44H562.11M557.51 271.94H562.11M570.48 269.53V271.04M568.18 269.53H572.77M568.18 271.04H572.77M581.14 264.79V267.8M578.84 264.79H583.44M578.84 267.8H583.44M591.8 259.21V263.73M589.5 259.21H594.1M589.5 263.73H594.1M602.46 254.39V260.41M600.16 254.39H604.76M600.16 260.41H604.76M613.12 248.81V256.35M610.83 248.81H615.42M610.83 256.35H615.42M623.79 242.55V254.61M621.49 242.55H626.09M621.49 254.61H626.09M634.45 235.55V253.63M632.15 235.55H636.75M632.15 253.63H636.75M645.11 230.12V252.73M642.81 230.12H647.41M642.81 252.73H647.41M655.78 223.94V254.08M653.48 223.94H658.08M653.48 254.08H658.08M666.44 220.02V253.18M664.14 220.02H668.74M664.14 253.18H668.74M677.1 219.95V250.09M674.8 219.95H679.4M674.8 250.09H679.4" stroke="#c4daf6" stroke-width="0.9" fill="none"/><path d="M506.5 265.54V267.05M504.2 265.54H508.8M504.2 267.05H508.8M517.16 259.51V261.02M514.86 259.51H519.46M514.86 261.02H519.46M527.83 253.26V254.76M525.53 253.26H530.12M525.53 254.76H530.12M538.49 245.27V249.79M536.19 245.27H540.79M536.19 249.79H540.79M549.15 236.68V246.32M546.85 236.68H551.45M546.85 246.32H551.45M559.81 229.97V242.03M557.51 229.97H562.11M557.51 242.03H562.11M570.48 226.5V239.16M568.18 226.5H572.77M568.18 239.16H572.77M581.14 222.43V236M578.84 222.43H583.44M578.84 236H583.44M591.8 217.99V233.06M589.5 217.99H594.1M589.5 233.06H594.1M602.46 213.09V230.87M600.16 213.09H604.76M600.16 230.87H604.76M613.12 210.38V228.46M610.83 210.38H615.42M610.83 228.46H615.42M623.79 208.57V226.65M621.49 208.57H626.09M621.49 226.65H626.09M634.45 206.16V225M632.15 206.16H636.75M632.15 225H636.75M645.11 203.9V225M642.81 203.9H647.41M642.81 225H647.41M655.78 201.18V226.81M653.48 201.18H658.08M653.48 226.81H658.08M666.44 200.81V226.43M664.14 200.81H668.74M664.14 226.43H668.74M677.1 201.18V226.81M674.8 201.18H679.4M674.8 226.81H679.4" stroke="#9a9a9a" stroke-width="0.9" fill="none"/><polyline points="506.5,266.29 517.16,257.7 527.83,249.34 538.49,250.17 549.15,253.78 559.81,257.17 570.48,258.38 581.14,258.91 591.8,258.98 602.46,258.98 613.12,258.98 623.79,259.43 634.45,259.66 645.11,260.04 655.78,260.41 666.44,260.41 677.1,261.02" stroke="#3cb43c" stroke-width="1.2" fill="none"/><path d="M506.5 268.63L508.6 264.73L504.4 264.73Z" fill="#0cb80c"/><path d="M517.16 260.04L519.26 256.14L515.06 256.14Z" fill="#0cb80c"/><path d="M527.83 251.68L529.93 247.78L525.73 247.78Z" fill="#0cb80c"/><path d="M538.49 252.51L540.59 248.61L536.39 248.61Z" fill="#0cb80c"/><path d="M549.15 256.12L551.25 252.22L547.05 252.22Z" fill="#0cb80c"/><path d="M559.81 259.51L561.91 255.61L557.71 255.61Z" fill="#0cb80c"/><path d="M570.48 260.72L572.58 256.82L568.38 256.82Z" fill="#0cb80c"/><path d="M581.14 261.25L583.24 257.35L579.04 257.35Z" fill="#0cb80c"/><path d="M591.8 261.32L593.9 257.42L589.7 257.42Z" fill="#0cb80c"/><path d="M602.46 261.32L604.56 257.42L600.36 257.42Z" fill="#0cb80c"/><path d="M613.12 261.32L615.23 257.42L611.02 257.42Z" fill="#0cb80c"/><path d="M623.79 261.77L625.89 257.87L621.69 257.87Z" fill="#0cb80c"/><path d="M634.45 262L636.55 258.1L632.35 258.1Z" fill="#0cb80c"/><path d="M645.11 262.38L647.21 258.48L643.01 258.48Z" fill="#0cb80c"/><path d="M655.78 262.75L657.88 258.85L653.68 258.85Z" fill="#0cb80c"/><path d="M666.44 262.75L668.54 258.85L664.34 258.85Z" fill="#0cb80c"/><path d="M677.1 263.36L679.2 259.46L675 259.46Z" fill="#0cb80c"/><polyline points="506.5,266.29 517.16,261.02 527.83,265.01 538.49,267.8 549.15,269.31 559.81,269.31 570.48,269 581.14,267.5 591.8,263.58 602.46,260.41 613.12,258 623.79,255.59 634.45,253.41 645.11,251.6 655.78,250.01 666.44,249.04 677.1,247.98" stroke="#d84848" stroke-width="1.1" fill="none"/><path d="M506.5 263.95L508.6 267.85L504.4 267.85Z" fill="#f01414"/><path d="M517.16 258.68L519.26 262.58L515.06 262.58Z" fill="#f01414"/><path d="M527.83 262.67L529.93 266.57L525.73 266.57Z" fill="#f01414"/><path d="M538.49 265.46L540.59 269.36L536.39 269.36Z" fill="#f01414"/><path d="M549.15 266.97L551.25 270.87L547.05 270.87Z" fill="#f01414"/><path d="M559.81 266.97L561.91 270.87L557.71 270.87Z" fill="#f01414"/><path d="M570.48 266.67L572.58 270.56L568.38 270.56Z" fill="#f01414"/><path d="M581.14 265.16L583.24 269.06L579.04 269.06Z" fill="#f01414"/><path d="M591.8 261.24L593.9 265.14L589.7 265.14Z" fill="#f01414"/><path d="M602.46 258.07L604.56 261.97L600.36 261.97Z" fill="#f01414"/><path d="M613.12 255.66L615.23 259.56L611.02 259.56Z" fill="#f01414"/><path d="M623.79 253.25L625.89 257.15L621.69 257.15Z" fill="#f01414"/><path d="M634.45 251.07L636.55 254.97L632.35 254.97Z" fill="#f01414"/><path d="M645.11 249.26L647.21 253.16L643.01 253.16Z" fill="#f01414"/><path d="M655.78 247.67L657.88 251.57L653.68 251.57Z" fill="#f01414"/><path d="M666.44 246.7L668.54 250.6L664.34 250.6Z" fill="#f01414"/><path d="M677.1 245.64L679.2 249.54L675 249.54Z" fill="#f01414"/><polyline points="506.5,267.5 517.16,266.59 527.83,270.29 538.49,270.81 549.15,271.19 559.81,271.19 570.48,270.29 581.14,266.29 591.8,261.47 602.46,257.4 613.12,252.58 623.79,248.58 634.45,244.59 645.11,241.42 655.78,239.01 666.44,236.6 677.1,235.02" stroke="#78acee" stroke-width="1.1" fill="none"/><rect x="504.5" y="265.5" width="4.0" height="4.0" fill="#4b94f2"/><rect x="515.16" y="264.59" width="4.0" height="4.0" fill="#4b94f2"/><rect x="525.83" y="268.29" width="4.0" height="4.0" fill="#4b94f2"/><rect x="536.49" y="268.81" width="4.0" height="4.0" fill="#4b94f2"/><rect x="547.15" y="269.19" width="4.0" height="4.0" fill="#4b94f2"/><rect x="557.81" y="269.19" width="4.0" height="4.0" fill="#4b94f2"/><rect x="568.48" y="268.29" width="4.0" height="4.0" fill="#4b94f2"/><rect x="579.14" y="264.29" width="4.0" height="4.0" fill="#4b94f2"/><rect x="589.8" y="259.47" width="4.0" height="4.0" fill="#4b94f2"/><rect x="600.46" y="255.4" width="4.0" height="4.0" fill="#4b94f2"/><rect x="611.12" y="250.58" width="4.0" height="4.0" fill="#4b94f2"/><rect x="621.79" y="246.58" width="4.0" height="4.0" fill="#4b94f2"/><rect x="632.45" y="242.59" width="4.0" height="4.0" fill="#4b94f2"/><rect x="643.11" y="239.42" width="4.0" height="4.0" fill="#4b94f2"/><rect x="653.78" y="237.01" width="4.0" height="4.0" fill="#4b94f2"/><rect x="664.44" y="234.6" width="4.0" height="4.0" fill="#4b94f2"/><rect x="675.1" y="233.02" width="4.0" height="4.0" fill="#4b94f2"/><polyline points="506.5,266.29 517.16,260.26 527.83,254.01 538.49,247.53 549.15,241.5 559.81,236 570.48,232.83 581.14,229.22 591.8,225.52 602.46,221.98 613.12,219.42 623.79,217.61 634.45,215.58 645.11,214.45 655.78,213.99 666.44,213.62 677.1,213.99" stroke="#1a1a1a" stroke-width="1.0" fill="none"/><circle cx="506.5" cy="266.29" r="2.2" fill="#000000"/><circle cx="517.16" cy="260.26" r="2.2" fill="#000000"/><circle cx="527.83" cy="254.01" r="2.2" fill="#000000"/><circle cx="538.49" cy="247.53" r="2.2" fill="#000000"/><circle cx="549.15" cy="241.5" r="2.2" fill="#000000"/><circle cx="559.81" cy="236" r="2.2" fill="#000000"/><circle cx="570.48" cy="232.83" r="2.2" fill="#000000"/><circle cx="581.14" cy="229.22" r="2.2" fill="#000000"/><circle cx="591.8" cy="225.52" r="2.2" fill="#000000"/><circle cx="602.46" cy="221.98" r="2.2" fill="#000000"/><circle cx="613.12" cy="219.42" r="2.2" fill="#000000"/><circle cx="623.79" cy="217.61" r="2.2" fill="#000000"/><circle cx="634.45" cy="215.58" r="2.2" fill="#000000"/><circle cx="645.11" cy="214.45" r="2.2" fill="#000000"/><circle cx="655.78" cy="213.99" r="2.2" fill="#000000"/><circle cx="666.44" cy="213.62" r="2.2" fill="#000000"/><circle cx="677.1" cy="213.99" r="2.2" fill="#000000"/></g>
<g><text x="28" y="310.8" class="pl">g</text><path d="M39.9 321.25V431.3" stroke="#7a7a7a" stroke-width="1.6" fill="none"/><path d="M38.1 431.3H217.2" stroke="#262626" stroke-width="1.6" fill="none"/><path d="M38.1 431.3H39.9M38.1 415.58H39.9M38.1 399.86H39.9M38.1 384.14H39.9M38.1 368.41H39.9M38.1 352.69H39.9M38.1 336.97H39.9M38.1 321.25H39.9" stroke="#7a7a7a" stroke-width="1.3" fill="none"/><path d="M39.9 431.3V433.1M61.99 431.3V433.1M84.07 431.3V433.1M106.16 431.3V433.1M128.25 431.3V433.1M150.34 431.3V433.1M172.42 431.3V433.1M194.51 431.3V433.1M216.6 431.3V433.1" stroke="#262626" stroke-width="1.3" fill="none"/><text transform="translate(36.5 434.2) scale(1 1)" class="tl" text-anchor="end">0.0</text><text transform="translate(36.5 418.48) scale(1 1)" class="tl" text-anchor="end">0.2</text><text transform="translate(36.5 402.76) scale(1 1)" class="tl" text-anchor="end">0.4</text><text transform="translate(36.5 387.04) scale(1 1)" class="tl" text-anchor="end">0.6</text><text transform="translate(36.5 371.31) scale(1 1)" class="tl" text-anchor="end">0.8</text><text transform="translate(36.5 355.59) scale(1 1)" class="tl" text-anchor="end">1.0</text><text transform="translate(36.5 339.87) scale(1 1)" class="tl" text-anchor="end">1.2</text><text transform="translate(36.5 324.15) scale(1 1)" class="tl" text-anchor="end">1.4</text><text transform="translate(39.9 441.9) scale(1 1)" class="tl" text-anchor="middle">0</text><text transform="translate(61.99 441.9) scale(1 1)" class="tl" text-anchor="middle">2</text><text transform="translate(84.07 441.9) scale(1 1)" class="tl" text-anchor="middle">4</text><text transform="translate(106.16 441.9) scale(1 1)" class="tl" text-anchor="middle">6</text><text transform="translate(128.25 441.9) scale(1 1)" class="tl" text-anchor="middle">8</text><text transform="translate(150.34 441.9) scale(1 1)" class="tl" text-anchor="middle">10</text><text transform="translate(172.42 441.9) scale(1 1)" class="tl" text-anchor="middle">12</text><text transform="translate(194.51 441.9) scale(1 1)" class="tl" text-anchor="middle">14</text><text transform="translate(216.6 441.9) scale(1 1)" class="tl" text-anchor="middle">16</text><text transform="translate(128.25 452.1) scale(1 1)" class="tl" text-anchor="middle">Hour</text><text transform="translate(10.9 374.47) rotate(-90)" class="od" text-anchor="middle">OD<tspan class="sub" dy="1.9">600nm</tspan></text><path d="M61.99 409.08V414.57M59.69 409.08H64.29M59.69 414.57H64.29M73.03 415.59V421.87M70.73 415.59H75.33M70.73 421.87H75.33" stroke="#f0a8b0" stroke-width="0.9" fill="none"/><polyline points="39.9,419.83 50.94,405.24 61.99,394.34 73.03,390.5 84.07,393.16 95.12,401.32 106.16,406.97 117.21,415.28 128.25,418.26 139.29,418.97 150.34,419.51 161.38,419.83 172.42,419.51 183.47,418.97 194.51,418.26 205.56,417.16 216.6,416.3" stroke="#3cb43c" stroke-width="1.2" fill="none"/><path d="M39.9 422.17L42 418.27L37.8 418.27Z" fill="#0cb80c"/><path d="M50.94 407.58L53.04 403.68L48.84 403.68Z" fill="#0cb80c"/><path d="M61.99 396.68L64.09 392.78L59.89 392.78Z" fill="#0cb80c"/><path d="M73.03 392.84L75.13 388.94L70.93 388.94Z" fill="#0cb80c"/><path d="M84.07 395.5L86.17 391.6L81.97 391.6Z" fill="#0cb80c"/><path d="M95.12 403.66L97.22 399.76L93.02 399.76Z" fill="#0cb80c"/><path d="M106.16 409.31L108.26 405.41L104.06 405.41Z" fill="#0cb80c"/><path d="M117.21 417.62L119.31 413.72L115.11 413.72Z" fill="#0cb80c"/><path d="M128.25 420.6L130.35 416.7L126.15 416.7Z" fill="#0cb80c"/><path d="M139.29 421.31L141.39 417.41L137.19 417.41Z" fill="#0cb80c"/><path d="M150.34 421.85L152.44 417.95L148.24 417.95Z" fill="#0cb80c"/><path d="M161.38 422.17L163.48 418.27L159.28 418.27Z" fill="#0cb80c"/><path d="M172.42 421.85L174.52 417.95L170.32 417.95Z" fill="#0cb80c"/><path d="M183.47 421.31L185.57 417.41L181.37 417.41Z" fill="#0cb80c"/><path d="M194.51 420.6L196.61 416.7L192.41 416.7Z" fill="#0cb80c"/><path d="M205.56 419.5L207.66 415.6L203.46 415.6Z" fill="#0cb80c"/><path d="M216.6 418.64L218.7 414.74L214.5 414.74Z" fill="#0cb80c"/><polyline points="39.9,419.83 50.94,406.97 61.99,411.83 73.03,418.73 84.07,422.34 95.12,422.81 106.16,422.81 117.21,422.34 128.25,421 139.29,418.97 150.34,415.67 161.38,413.32 172.42,411.12 183.47,409.32 194.51,408.06 205.56,406.73 216.6,405.79" stroke="#d84848" stroke-width="1.1" fill="none"/><path d="M39.9 417.49L42 421.39L37.8 421.39Z" fill="#f01414"/><path d="M50.94 404.63L53.04 408.53L48.84 408.53Z" fill="#f01414"/><path d="M61.99 409.49L64.09 413.39L59.89 413.39Z" fill="#f01414"/><path d="M73.03 416.39L75.13 420.29L70.93 420.29Z" fill="#f01414"/><path d="M84.07 420L86.17 423.9L81.97 423.9Z" fill="#f01414"/><path d="M95.12 420.47L97.22 424.37L93.02 424.37Z" fill="#f01414"/><path d="M106.16 420.47L108.26 424.37L104.06 424.37Z" fill="#f01414"/><path d="M117.21 420L119.31 423.9L115.11 423.9Z" fill="#f01414"/><path d="M128.25 418.66L130.35 422.56L126.15 422.56Z" fill="#f01414"/><path d="M139.29 416.63L141.39 420.53L137.19 420.53Z" fill="#f01414"/><path d="M150.34 413.33L152.44 417.23L148.24 417.23Z" fill="#f01414"/><path d="M161.38 410.98L163.48 414.88L159.28 414.88Z" fill="#f01414"/><path d="M172.42 408.78L174.52 412.68L170.32 412.68Z" fill="#f01414"/><path d="M183.47 406.98L185.57 410.88L181.37 410.88Z" fill="#f01414"/><path d="M194.51 405.72L196.61 409.62L192.41 409.62Z" fill="#f01414"/><path d="M205.56 404.39L207.66 408.29L203.46 408.29Z" fill="#f01414"/><path d="M216.6 403.45L218.7 407.35L214.5 407.35Z" fill="#f01414"/><polyline points="39.9,421.71 50.94,415.28 61.99,422.81 73.03,423.51 84.07,423.51 95.12,423.51 106.16,422.34 117.21,418.02 128.25,413.79 139.29,410.49 150.34,407.51 161.38,405.48 172.42,403.67 183.47,402.18 194.51,401.32 205.56,400.3 216.6,399.51" stroke="#78acee" stroke-width="1.1" fill="none"/><rect x="37.9" y="419.71" width="4.0" height="4.0" fill="#4b94f2"/><rect x="48.94" y="413.28" width="4.0" height="4.0" fill="#4b94f2"/><rect x="59.99" y="420.81" width="4.0" height="4.0" fill="#4b94f2"/><rect x="71.03" y="421.51" width="4.0" height="4.0" fill="#4b94f2"/><rect x="82.07" y="421.51" width="4.0" height="4.0" fill="#4b94f2"/><rect x="93.12" y="421.51" width="4.0" height="4.0" fill="#4b94f2"/><rect x="104.16" y="420.34" width="4.0" height="4.0" fill="#4b94f2"/><rect x="115.21" y="416.02" width="4.0" height="4.0" fill="#4b94f2"/><rect x="126.25" y="411.79" width="4.0" height="4.0" fill="#4b94f2"/><rect x="137.29" y="408.49" width="4.0" height="4.0" fill="#4b94f2"/><rect x="148.34" y="405.51" width="4.0" height="4.0" fill="#4b94f2"/><rect x="159.38" y="403.48" width="4.0" height="4.0" fill="#4b94f2"/><rect x="170.42" y="401.67" width="4.0" height="4.0" fill="#4b94f2"/><rect x="181.47" y="400.18" width="4.0" height="4.0" fill="#4b94f2"/><rect x="192.51" y="399.32" width="4.0" height="4.0" fill="#4b94f2"/><rect x="203.56" y="398.3" width="4.0" height="4.0" fill="#4b94f2"/><rect x="214.6" y="397.51" width="4.0" height="4.0" fill="#4b94f2"/><polyline points="39.9,419.83 50.94,408.53 61.99,399.51 73.03,390.1 84.07,380.77 95.12,372.54 106.16,366.65 117.21,361.16 128.25,357.48 139.29,353.71 150.34,350.89 161.38,348.54 172.42,346.81 183.47,345.71 194.51,345.87 205.56,344.93 216.6,344.38" stroke="#1a1a1a" stroke-width="1.0" fill="none"/><circle cx="39.9" cy="419.83" r="2.2" fill="#000000"/><circle cx="50.94" cy="408.53" r="2.2" fill="#000000"/><circle cx="61.99" cy="399.51" r="2.2" fill="#000000"/><circle cx="73.03" cy="390.1" r="2.2" fill="#000000"/><circle cx="84.07" cy="380.77" r="2.2" fill="#000000"/><circle cx="95.12" cy="372.54" r="2.2" fill="#000000"/><circle cx="106.16" cy="366.65" r="2.2" fill="#000000"/><circle cx="117.21" cy="361.16" r="2.2" fill="#000000"/><circle cx="128.25" cy="357.48" r="2.2" fill="#000000"/><circle cx="139.29" cy="353.71" r="2.2" fill="#000000"/><circle cx="150.34" cy="350.89" r="2.2" fill="#000000"/><circle cx="161.38" cy="348.54" r="2.2" fill="#000000"/><circle cx="172.42" cy="346.81" r="2.2" fill="#000000"/><circle cx="183.47" cy="345.71" r="2.2" fill="#000000"/><circle cx="194.51" cy="345.87" r="2.2" fill="#000000"/><circle cx="205.56" cy="344.93" r="2.2" fill="#000000"/><circle cx="216.6" cy="344.38" r="2.2" fill="#000000"/></g>
<g><text x="266.8" y="311" class="pl">h</text><path d="M277.9 324.1V431.2" stroke="#262626" stroke-width="1.6" fill="none"/><path d="M274.4 431.2H451" stroke="#262626" stroke-width="1.6" fill="none"/><path d="M274.4 431.2H277.9M274.4 415.9H277.9M274.4 400.6H277.9M274.4 385.3H277.9M274.4 370H277.9M274.4 354.7H277.9M274.4 339.4H277.9M274.4 324.1H277.9" stroke="#262626" stroke-width="1.3" fill="none"/><path d="M277.9 431.2V434.7M299.46 431.2V434.7M321.02 431.2V434.7M342.59 431.2V434.7M364.15 431.2V434.7M385.71 431.2V434.7M407.27 431.2V434.7M428.84 431.2V434.7M450.4 431.2V434.7" stroke="#262626" stroke-width="1.3" fill="none"/><text transform="translate(273.2 434.1) scale(1 1)" class="tl" text-anchor="end">0.0</text><text transform="translate(273.2 418.8) scale(1 1)" class="tl" text-anchor="end">0.2</text><text transform="translate(273.2 403.5) scale(1 1)" class="tl" text-anchor="end">0.4</text><text transform="translate(273.2 388.2) scale(1 1)" class="tl" text-anchor="end">0.6</text><text transform="translate(273.2 372.9) scale(1 1)" class="tl" text-anchor="end">0.8</text><text transform="translate(273.2 357.6) scale(1 1)" class="tl" text-anchor="end">1.0</text><text transform="translate(273.2 342.3) scale(1 1)" class="tl" text-anchor="end">1.2</text><text transform="translate(273.2 327) scale(1 1)" class="tl" text-anchor="end">1.4</text><text transform="translate(277.9 443.4) scale(1 1)" class="tl" text-anchor="middle">0</text><text transform="translate(299.46 443.4) scale(1 1)" class="tl" text-anchor="middle">2</text><text transform="translate(321.02 443.4) scale(1 1)" class="tl" text-anchor="middle">4</text><text transform="translate(342.59 443.4) scale(1 1)" class="tl" text-anchor="middle">6</text><text transform="translate(364.15 443.4) scale(1 1)" class="tl" text-anchor="middle">8</text><text transform="translate(385.71 443.4) scale(1 1)" class="tl" text-anchor="middle">10</text><text transform="translate(407.27 443.4) scale(1 1)" class="tl" text-anchor="middle">12</text><text transform="translate(428.84 443.4) scale(1 1)" class="tl" text-anchor="middle">14</text><text transform="translate(450.4 443.4) scale(1 1)" class="tl" text-anchor="middle">16</text><text transform="translate(364.15 453.9) scale(1 1)" class="tl" text-anchor="middle">Hour</text><text transform="translate(246.6 375.55) rotate(-90)" class="od" text-anchor="middle">OD<tspan class="sub" dy="1.9">600nm</tspan></text><path d="M299.46 400.78V403.81M297.16 400.78H301.76M297.16 403.81H301.76M310.24 394.17V397.21M307.94 394.17H312.54M307.94 397.21H312.54M321.02 390.45V396.52M318.72 390.45H323.32M318.72 396.52H323.32M331.81 392.35V410.27M329.51 392.35H334.11M329.51 410.27H334.11M342.59 403.13V418.32M340.29 403.13H344.89M340.29 418.32H344.89M353.37 413.53V418.09M351.07 413.53H355.67M351.07 418.09H355.67M364.15 415.81V418.85M361.85 415.81H366.45M361.85 418.85H366.45M374.93 417.48V419M372.63 417.48H377.23M372.63 419H377.23M385.71 418.01V419.53M383.41 418.01H388.01M383.41 419.53H388.01M396.49 418.54V420.06M394.19 418.54H398.79M394.19 420.06H398.79M407.27 418.24V419.76M404.97 418.24H409.57M404.97 419.76H409.57M418.06 418.01V419.53M415.76 418.01H420.36M415.76 419.53H420.36M428.84 417.48V419M426.54 417.48H431.14M426.54 419H431.14M439.62 416.57V418.09M437.32 416.57H441.92M437.32 418.09H441.92M450.4 415.96V417.48M448.1 415.96H452.7M448.1 417.48H452.7" stroke="#ace6ac" stroke-width="0.9" fill="none"/><path d="M277.9 419.76V421.28M275.6 419.76H280.2M275.6 421.28H280.2M288.68 409.96V411.48M286.38 409.96H290.98M286.38 411.48H290.98M299.46 412.24V413.76M297.16 412.24H301.76M297.16 413.76H301.76M310.24 420.06V421.58M307.94 420.06H312.54M307.94 421.58H312.54M321.02 421.88V423.4M318.72 421.88H323.32M318.72 423.4H323.32M331.81 422.57V424.09M329.51 422.57H334.11M329.51 424.09H334.11M342.59 422.64V424.16M340.29 422.64H344.89M340.29 424.16H344.89M353.37 423.02V424.54M351.07 423.02H355.67M351.07 424.54H355.67M364.15 422.42V423.93M361.85 422.42H366.45M361.85 423.93H366.45M374.93 421.51V424.54M372.63 421.51H377.23M372.63 424.54H377.23M385.71 419.99V423.02M383.41 419.99H388.01M383.41 423.02H388.01M396.49 418.47V421.51M394.19 418.47H398.79M394.19 421.51H398.79M407.27 416.95V419.99M404.97 416.95H409.57M404.97 419.99H409.57M418.06 415.05V418.09M415.76 415.05H420.36M415.76 418.09H420.36M428.84 413.61V416.65M426.54 413.61H431.14M426.54 416.65H431.14M439.62 411.79V414.82M437.32 411.79H441.92M437.32 414.82H441.92M450.4 410.27V413.3M448.1 410.27H452.7M448.1 413.3H452.7" stroke="#f0a8b0" stroke-width="0.9" fill="none"/><path d="M277.9 419.53V424.09M275.6 419.53H280.2M275.6 424.09H280.2M288.68 417.48V419M286.38 417.48H290.98M286.38 419H290.98M299.46 422.72V424.24M297.16 422.72H301.76M297.16 424.24H301.76M310.24 423.48V425M307.94 423.48H312.54M307.94 425H312.54M321.02 423.71V425.23M318.72 423.71H323.32M318.72 425.23H323.32M331.81 423.71V425.23M329.51 423.71H334.11M329.51 425.23H334.11M342.59 423.71V425.23M340.29 423.71H344.89M340.29 425.23H344.89M353.37 423.48V425M351.07 423.48H355.67M351.07 425H355.67M364.15 422.42V423.93M361.85 422.42H366.45M361.85 423.93H366.45M374.93 419.53V421.05M372.63 419.53H377.23M372.63 421.05H377.23M385.71 414.44V419M383.41 414.44H388.01M383.41 419H388.01M396.49 408.98V416.57M394.19 408.98H398.79M394.19 416.57H398.79M407.27 403.51V414.9M404.97 403.51H409.57M404.97 414.9H409.57M418.06 399.26V413.68M415.76 399.26H420.36M415.76 413.68H420.36M428.84 396.3V412.24M426.54 396.3H431.14M426.54 412.24H431.14M439.62 392.96V412.7M437.32 392.96H441.92M437.32 412.7H441.92M450.4 390.3V415.36M448.1 390.3H452.7M448.1 415.36H452.7" stroke="#c4daf6" stroke-width="0.9" fill="none"/><path d="M342.59 369.42V370.94M340.29 369.42H344.89M340.29 370.94H344.89M353.37 362.05V365.09M351.07 362.05H355.67M351.07 365.09H355.67M364.15 354.54V362.13M361.85 354.54H366.45M361.85 362.13H366.45M374.93 348.23V360.38M372.63 348.23H377.23M372.63 360.38H377.23M385.71 344.74V357.35M383.41 344.74H388.01M383.41 357.35H388.01M396.49 341.48V355.9M394.19 341.48H398.79M394.19 355.9H398.79M407.27 339.35V354.54M404.97 339.35H409.57M404.97 354.54H409.57M418.06 337V354.16M415.76 337H420.36M415.76 354.16H420.36M428.84 336.09V354.31M426.54 336.09H431.14M426.54 354.31H431.14M439.62 335.02V353.25M437.32 335.02H441.92M437.32 353.25H441.92M450.4 334.34V353.32M448.1 334.34H452.7M448.1 353.32H452.7" stroke="#8a8a8a" stroke-width="0.9" fill="none"/><polyline points="277.9,420.52 288.68,410.72 299.46,402.3 310.24,395.69 321.02,393.49 331.81,401.31 342.59,410.72 353.37,415.81 364.15,417.33 374.93,418.24 385.71,418.77 396.49,419.3 407.27,419 418.06,418.77 428.84,418.24 439.62,417.33 450.4,416.72" stroke="#3cb43c" stroke-width="1.2" fill="none"/><path d="M277.9 422.86L280 418.96L275.8 418.96Z" fill="#0cb80c"/><path d="M288.68 413.06L290.78 409.16L286.58 409.16Z" fill="#0cb80c"/><path d="M299.46 404.64L301.56 400.74L297.36 400.74Z" fill="#0cb80c"/><path d="M310.24 398.03L312.34 394.13L308.14 394.13Z" fill="#0cb80c"/><path d="M321.02 395.83L323.12 391.93L318.92 391.93Z" fill="#0cb80c"/><path d="M331.81 403.65L333.91 399.75L329.71 399.75Z" fill="#0cb80c"/><path d="M342.59 413.06L344.69 409.16L340.49 409.16Z" fill="#0cb80c"/><path d="M353.37 418.15L355.47 414.25L351.27 414.25Z" fill="#0cb80c"/><path d="M364.15 419.67L366.25 415.77L362.05 415.77Z" fill="#0cb80c"/><path d="M374.93 420.58L377.03 416.68L372.83 416.68Z" fill="#0cb80c"/><path d="M385.71 421.11L387.81 417.21L383.61 417.21Z" fill="#0cb80c"/><path d="M396.49 421.64L398.59 417.74L394.39 417.74Z" fill="#0cb80c"/><path d="M407.27 421.34L409.38 417.44L405.17 417.44Z" fill="#0cb80c"/><path d="M418.06 421.11L420.16 417.21L415.96 417.21Z" fill="#0cb80c"/><path d="M428.84 420.58L430.94 416.68L426.74 416.68Z" fill="#0cb80c"/><path d="M439.62 419.67L441.72 415.77L437.52 415.77Z" fill="#0cb80c"/><path d="M450.4 419.06L452.5 415.16L448.3 415.16Z" fill="#0cb80c"/><polyline points="277.9,420.52 288.68,410.72 299.46,413 310.24,420.82 321.02,422.64 331.81,423.33 342.59,423.4 353.37,423.78 364.15,423.18 374.93,423.02 385.71,421.51 396.49,419.99 407.27,418.47 418.06,416.57 428.84,415.13 439.62,413.3 450.4,411.79" stroke="#d84848" stroke-width="1.1" fill="none"/><path d="M277.9 418.18L280 422.08L275.8 422.08Z" fill="#f01414"/><path d="M288.68 408.38L290.78 412.28L286.58 412.28Z" fill="#f01414"/><path d="M299.46 410.66L301.56 414.56L297.36 414.56Z" fill="#f01414"/><path d="M310.24 418.48L312.34 422.38L308.14 422.38Z" fill="#f01414"/><path d="M321.02 420.3L323.12 424.2L318.92 424.2Z" fill="#f01414"/><path d="M331.81 420.99L333.91 424.89L329.71 424.89Z" fill="#f01414"/><path d="M342.59 421.06L344.69 424.96L340.49 424.96Z" fill="#f01414"/><path d="M353.37 421.44L355.47 425.34L351.27 425.34Z" fill="#f01414"/><path d="M364.15 420.84L366.25 424.74L362.05 424.74Z" fill="#f01414"/><path d="M374.93 420.68L377.03 424.58L372.83 424.58Z" fill="#f01414"/><path d="M385.71 419.17L387.81 423.07L383.61 423.07Z" fill="#f01414"/><path d="M396.49 417.65L398.59 421.55L394.39 421.55Z" fill="#f01414"/><path d="M407.27 416.13L409.38 420.03L405.17 420.03Z" fill="#f01414"/><path d="M418.06 414.23L420.16 418.13L415.96 418.13Z" fill="#f01414"/><path d="M428.84 412.79L430.94 416.69L426.74 416.69Z" fill="#f01414"/><path d="M439.62 410.96L441.72 414.86L437.52 414.86Z" fill="#f01414"/><path d="M450.4 409.45L452.5 413.35L448.3 413.35Z" fill="#f01414"/><polyline points="277.9,421.81 288.68,418.24 299.46,423.48 310.24,424.24 321.02,424.47 331.81,424.47 342.59,424.47 353.37,424.24 364.15,423.18 374.93,420.29 385.71,416.72 396.49,412.77 407.27,409.2 418.06,406.47 428.84,404.27 439.62,402.83 450.4,402.83" stroke="#78acee" stroke-width="1.1" fill="none"/><rect x="275.9" y="419.81" width="4.0" height="4.0" fill="#4b94f2"/><rect x="286.68" y="416.24" width="4.0" height="4.0" fill="#4b94f2"/><rect x="297.46" y="421.48" width="4.0" height="4.0" fill="#4b94f2"/><rect x="308.24" y="422.24" width="4.0" height="4.0" fill="#4b94f2"/><rect x="319.02" y="422.47" width="4.0" height="4.0" fill="#4b94f2"/><rect x="329.81" y="422.47" width="4.0" height="4.0" fill="#4b94f2"/><rect x="340.59" y="422.47" width="4.0" height="4.0" fill="#4b94f2"/><rect x="351.37" y="422.24" width="4.0" height="4.0" fill="#4b94f2"/><rect x="362.15" y="421.18" width="4.0" height="4.0" fill="#4b94f2"/><rect x="372.93" y="418.29" width="4.0" height="4.0" fill="#4b94f2"/><rect x="383.71" y="414.72" width="4.0" height="4.0" fill="#4b94f2"/><rect x="394.49" y="410.77" width="4.0" height="4.0" fill="#4b94f2"/><rect x="405.27" y="407.2" width="4.0" height="4.0" fill="#4b94f2"/><rect x="416.06" y="404.47" width="4.0" height="4.0" fill="#4b94f2"/><rect x="426.84" y="402.27" width="4.0" height="4.0" fill="#4b94f2"/><rect x="437.62" y="400.83" width="4.0" height="4.0" fill="#4b94f2"/><rect x="448.4" y="400.83" width="4.0" height="4.0" fill="#4b94f2"/><polyline points="277.9,420.52 288.68,411.79 299.46,404.27 310.24,395.99 321.02,387.79 331.81,378 342.59,370.18 353.37,363.57 364.15,358.33 374.93,354.31 385.71,351.04 396.49,348.69 407.27,346.94 418.06,345.58 428.84,345.2 439.62,344.13 450.4,343.83" stroke="#1a1a1a" stroke-width="1.0" fill="none"/><circle cx="277.9" cy="420.52" r="2.2" fill="#000000"/><circle cx="288.68" cy="411.79" r="2.2" fill="#000000"/><circle cx="299.46" cy="404.27" r="2.2" fill="#000000"/><circle cx="310.24" cy="395.99" r="2.2" fill="#000000"/><circle cx="321.02" cy="387.79" r="2.2" fill="#000000"/><circle cx="331.81" cy="378" r="2.2" fill="#000000"/><circle cx="342.59" cy="370.18" r="2.2" fill="#000000"/><circle cx="353.37" cy="363.57" r="2.2" fill="#000000"/><circle cx="364.15" cy="358.33" r="2.2" fill="#000000"/><circle cx="374.93" cy="354.31" r="2.2" fill="#000000"/><circle cx="385.71" cy="351.04" r="2.2" fill="#000000"/><circle cx="396.49" cy="348.69" r="2.2" fill="#000000"/><circle cx="407.27" cy="346.94" r="2.2" fill="#000000"/><circle cx="418.06" cy="345.58" r="2.2" fill="#000000"/><circle cx="428.84" cy="345.2" r="2.2" fill="#000000"/><circle cx="439.62" cy="344.13" r="2.2" fill="#000000"/><circle cx="450.4" cy="343.83" r="2.2" fill="#000000"/></g>
<g><text x="494.5" y="311.1" class="pl">i</text><path d="M504.5 321.1V431.5" stroke="#262626" stroke-width="1.6" fill="none"/><path d="M502.5 431.5H676" stroke="#262626" stroke-width="1.6" fill="none"/><path d="M502.5 431.5H504.5M502.5 415.73H504.5M502.5 399.96H504.5M502.5 384.19H504.5M502.5 368.41H504.5M502.5 352.64H504.5M502.5 336.87H504.5M502.5 321.1H504.5" stroke="#262626" stroke-width="1.3" fill="none"/><path d="M504.5 431.5V433.5M525.86 431.5V433.5M547.23 431.5V433.5M568.59 431.5V433.5M589.95 431.5V433.5M611.31 431.5V433.5M632.67 431.5V433.5M654.04 431.5V433.5M675.4 431.5V433.5" stroke="#262626" stroke-width="1.3" fill="none"/><text transform="translate(501.3 434.4) scale(1 1)" class="tl" text-anchor="end">0.0</text><text transform="translate(501.3 418.63) scale(1 1)" class="tl" text-anchor="end">0.2</text><text transform="translate(501.3 402.86) scale(1 1)" class="tl" text-anchor="end">0.4</text><text transform="translate(501.3 387.09) scale(1 1)" class="tl" text-anchor="end">0.6</text><text transform="translate(501.3 371.31) scale(1 1)" class="tl" text-anchor="end">0.8</text><text transform="translate(501.3 355.54) scale(1 1)" class="tl" text-anchor="end">1.0</text><text transform="translate(501.3 339.77) scale(1 1)" class="tl" text-anchor="end">1.2</text><text transform="translate(501.3 324) scale(1 1)" class="tl" text-anchor="end">1.4</text><text transform="translate(504.5 442.1) scale(1 1)" class="tl" text-anchor="middle">0</text><text transform="translate(525.86 442.1) scale(1 1)" class="tl" text-anchor="middle">2</text><text transform="translate(547.23 442.1) scale(1 1)" class="tl" text-anchor="middle">4</text><text transform="translate(568.59 442.1) scale(1 1)" class="tl" text-anchor="middle">6</text><text transform="translate(589.95 442.1) scale(1 1)" class="tl" text-anchor="middle">8</text><text transform="translate(611.31 442.1) scale(1 1)" class="tl" text-anchor="middle">10</text><text transform="translate(632.67 442.1) scale(1 1)" class="tl" text-anchor="middle">12</text><text transform="translate(654.04 442.1) scale(1 1)" class="tl" text-anchor="middle">14</text><text transform="translate(675.4 442.1) scale(1 1)" class="tl" text-anchor="middle">16</text><text transform="translate(589.95 451.3) scale(1 1)" class="tl" text-anchor="middle">Hour</text><text transform="translate(477 374.5) rotate(-90)" class="od" text-anchor="middle">OD<tspan class="sub" dy="1.9">600nm</tspan></text><path d="M525.86 402.22V403.79M523.56 402.22H528.16M523.56 403.79H528.16M536.54 399.24V400.81M534.24 399.24H538.84M534.24 400.81H538.84M547.23 401.44V403.01M544.93 401.44H549.52M544.93 403.01H549.52M557.91 404.5V406.07M555.61 404.5H560.21M555.61 406.07H560.21M568.59 405.83V407.4M566.29 405.83H570.89M566.29 407.4H570.89M579.27 407.09V408.66M576.97 407.09H581.57M576.97 408.66H581.57M589.95 407.48V409.05M587.65 407.48H592.25M587.65 409.05H592.25M600.63 408.66V410.22M598.33 408.66H602.93M598.33 410.22H602.93M611.31 408.66V410.22M609.01 408.66H613.61M609.01 410.22H613.61M621.99 409.2V410.77M619.69 409.2H624.29M619.69 410.77H624.29M632.67 409.83V411.4M630.38 409.83H634.97M630.38 411.4H634.97M643.36 409.83V412.97M641.06 409.83H645.66M641.06 412.97H645.66M654.04 410.07V413.2M651.74 410.07H656.34M651.74 413.2H656.34M664.72 410.46V413.6M662.42 410.46H667.02M662.42 413.6H667.02M675.4 411.4V414.54M673.1 411.4H677.7M673.1 414.54H677.7" stroke="#ace6ac" stroke-width="0.9" fill="none"/><path d="M525.86 411.79V413.36M523.56 411.79H528.16M523.56 413.36H528.16M536.54 415.71V417.28M534.24 415.71H538.84M534.24 417.28H538.84M547.23 418.22V419.79M544.93 418.22H549.52M544.93 419.79H549.52M557.91 419.01V420.58M555.61 419.01H560.21M555.61 420.58H560.21M568.59 419.4V420.97M566.29 419.4H570.89M566.29 420.97H570.89M579.27 419.4V420.97M576.97 419.4H581.57M576.97 420.97H581.57M589.95 418.69V420.26M587.65 418.69H592.25M587.65 420.26H592.25M600.63 417.2V418.77M598.33 417.2H602.93M598.33 418.77H602.93M611.31 414.85V416.42M609.01 414.85H613.61M609.01 416.42H613.61M621.99 413.6V415.17M619.69 413.6H624.29M619.69 415.17H624.29M632.67 411.4V414.54M630.38 411.4H634.97M630.38 414.54H634.97M643.36 410.46V413.6M641.06 410.46H645.66M641.06 413.6H645.66M654.04 408.66V413.36M651.74 408.66H656.34M651.74 413.36H656.34M664.72 407.24V413.52M662.42 407.24H667.02M662.42 413.52H667.02M675.4 406.3V412.58M673.1 406.3H677.7M673.1 412.58H677.7" stroke="#f0a8b0" stroke-width="0.9" fill="none"/><path d="M504.5 420.5V422.07M502.2 420.5H506.8M502.2 422.07H506.8M515.18 413.05V414.62M512.88 413.05H517.48M512.88 414.62H517.48M525.86 420.5V422.07M523.56 420.5H528.16M523.56 422.07H528.16M536.54 421.99V423.56M534.24 421.99H538.84M534.24 423.56H538.84M547.23 422.38V423.95M544.93 422.38H549.52M544.93 423.95H549.52M557.91 421.99V423.56M555.61 421.99H560.21M555.61 423.56H560.21M568.59 420.81V422.38M566.29 420.81H570.89M566.29 422.38H570.89M579.27 417.05V418.62M576.97 417.05H581.57M576.97 418.62H581.57M589.95 411.95V413.52M587.65 411.95H592.25M587.65 413.52H592.25M600.63 407.64V409.2M598.33 407.64H602.93M598.33 409.2H602.93M611.31 403.79V405.36M609.01 403.79H613.61M609.01 405.36H613.61M621.99 401.2V402.77M619.69 401.2H624.29M619.69 402.77H624.29M632.67 398.85V400.42M630.38 398.85H634.97M630.38 400.42H634.97M643.36 397.68V399.24M641.06 397.68H645.66M641.06 399.24H645.66M654.04 396.19V397.75M651.74 396.19H656.34M651.74 397.75H656.34M664.72 395.64V397.21M662.42 395.64H667.02M662.42 397.21H667.02M675.4 394.85V396.42M673.1 394.85H677.7M673.1 396.42H677.7" stroke="#c4daf6" stroke-width="0.9" fill="none"/><path d="M504.5 420.18V421.75M502.2 420.18H506.8M502.2 421.75H506.8M515.18 410.69V412.26M512.88 410.69H517.48M512.88 412.26H517.48M525.86 404.34V405.91M523.56 404.34H528.16M523.56 405.91H528.16M536.54 396.11V399.24M534.24 396.11H538.84M534.24 399.24H538.84M547.23 385.44V396.11M544.93 385.44H549.52M544.93 396.11H549.52M557.91 377.99V391.64M555.61 377.99H560.21M555.61 391.64H560.21M568.59 375.32V386.93M566.29 375.32H570.89M566.29 386.93H570.89M579.27 373.91V380.19M576.97 373.91H581.57M576.97 380.19H581.57M589.95 371.17V375.87M587.65 371.17H592.25M587.65 375.87H592.25M600.63 368.03V372.74M598.33 368.03H602.93M598.33 372.74H602.93M611.31 364.19V372.03M609.01 364.19H613.61M609.01 372.03H613.61M621.99 361.6V371.01M619.69 361.6H624.29M619.69 371.01H624.29M632.67 358.93V369.91M630.38 358.93H634.97M630.38 369.91H634.97M643.36 358.62V369.13M641.06 358.62H645.66M641.06 369.13H645.66M654.04 359.56V367.4M651.74 359.56H656.34M651.74 367.4H656.34M664.72 359.64V366.7M662.42 359.64H667.02M662.42 366.7H667.02M675.4 361.13V365.83M673.1 361.13H677.7M673.1 365.83H677.7" stroke="#7a7a7a" stroke-width="0.9" fill="none"/><polyline points="504.5,420.97 515.18,411.17 525.86,403.01 536.54,400.03 547.23,402.22 557.91,405.28 568.59,406.62 579.27,407.87 589.95,408.26 600.63,409.44 611.31,409.44 621.99,409.99 632.67,410.62 643.36,411.4 654.04,411.64 664.72,412.03 675.4,412.97" stroke="#3cb43c" stroke-width="1.2" fill="none"/><path d="M504.5 423.31L506.6 419.41L502.4 419.41Z" fill="#0cb80c"/><path d="M515.18 413.51L517.28 409.61L513.08 409.61Z" fill="#0cb80c"/><path d="M525.86 405.35L527.96 401.45L523.76 401.45Z" fill="#0cb80c"/><path d="M536.54 402.37L538.64 398.47L534.44 398.47Z" fill="#0cb80c"/><path d="M547.23 404.56L549.33 400.66L545.12 400.66Z" fill="#0cb80c"/><path d="M557.91 407.62L560.01 403.72L555.81 403.72Z" fill="#0cb80c"/><path d="M568.59 408.96L570.69 405.06L566.49 405.06Z" fill="#0cb80c"/><path d="M579.27 410.21L581.37 406.31L577.17 406.31Z" fill="#0cb80c"/><path d="M589.95 410.6L592.05 406.7L587.85 406.7Z" fill="#0cb80c"/><path d="M600.63 411.78L602.73 407.88L598.53 407.88Z" fill="#0cb80c"/><path d="M611.31 411.78L613.41 407.88L609.21 407.88Z" fill="#0cb80c"/><path d="M621.99 412.33L624.09 408.43L619.89 408.43Z" fill="#0cb80c"/><path d="M632.67 412.96L634.77 409.06L630.57 409.06Z" fill="#0cb80c"/><path d="M643.36 413.74L645.46 409.84L641.26 409.84Z" fill="#0cb80c"/><path d="M654.04 413.98L656.14 410.08L651.94 410.08Z" fill="#0cb80c"/><path d="M664.72 414.37L666.82 410.47L662.62 410.47Z" fill="#0cb80c"/><path d="M675.4 415.31L677.5 411.41L673.3 411.41Z" fill="#0cb80c"/><polyline points="504.5,420.97 515.18,411.17 525.86,412.58 536.54,416.5 547.23,419.01 557.91,419.79 568.59,420.18 579.27,420.18 589.95,419.48 600.63,417.99 611.31,415.64 621.99,414.38 632.67,412.97 643.36,412.03 654.04,411.01 664.72,410.38 675.4,409.44" stroke="#d84848" stroke-width="1.1" fill="none"/><path d="M504.5 418.63L506.6 422.53L502.4 422.53Z" fill="#f01414"/><path d="M515.18 408.83L517.28 412.73L513.08 412.73Z" fill="#f01414"/><path d="M525.86 410.24L527.96 414.14L523.76 414.14Z" fill="#f01414"/><path d="M536.54 414.16L538.64 418.06L534.44 418.06Z" fill="#f01414"/><path d="M547.23 416.67L549.33 420.57L545.12 420.57Z" fill="#f01414"/><path d="M557.91 417.45L560.01 421.35L555.81 421.35Z" fill="#f01414"/><path d="M568.59 417.84L570.69 421.74L566.49 421.74Z" fill="#f01414"/><path d="M579.27 417.84L581.37 421.74L577.17 421.74Z" fill="#f01414"/><path d="M589.95 417.14L592.05 421.04L587.85 421.04Z" fill="#f01414"/><path d="M600.63 415.65L602.73 419.55L598.53 419.55Z" fill="#f01414"/><path d="M611.31 413.3L613.41 417.2L609.21 417.2Z" fill="#f01414"/><path d="M621.99 412.04L624.09 415.94L619.89 415.94Z" fill="#f01414"/><path d="M632.67 410.63L634.77 414.53L630.57 414.53Z" fill="#f01414"/><path d="M643.36 409.69L645.46 413.59L641.26 413.59Z" fill="#f01414"/><path d="M654.04 408.67L656.14 412.57L651.94 412.57Z" fill="#f01414"/><path d="M664.72 408.04L666.82 411.94L662.62 411.94Z" fill="#f01414"/><path d="M675.4 407.1L677.5 411L673.3 411Z" fill="#f01414"/><polyline points="504.5,421.28 515.18,413.83 525.86,421.28 536.54,422.77 547.23,423.16 557.91,422.77 568.59,421.6 579.27,417.83 589.95,412.73 600.63,408.42 611.31,404.58 621.99,401.99 632.67,399.64 643.36,398.46 654.04,396.97 664.72,396.42 675.4,395.64" stroke="#78acee" stroke-width="1.1" fill="none"/><rect x="502.5" y="419.28" width="4.0" height="4.0" fill="#4b94f2"/><rect x="513.18" y="411.83" width="4.0" height="4.0" fill="#4b94f2"/><rect x="523.86" y="419.28" width="4.0" height="4.0" fill="#4b94f2"/><rect x="534.54" y="420.77" width="4.0" height="4.0" fill="#4b94f2"/><rect x="545.23" y="421.16" width="4.0" height="4.0" fill="#4b94f2"/><rect x="555.91" y="420.77" width="4.0" height="4.0" fill="#4b94f2"/><rect x="566.59" y="419.6" width="4.0" height="4.0" fill="#4b94f2"/><rect x="577.27" y="415.83" width="4.0" height="4.0" fill="#4b94f2"/><rect x="587.95" y="410.73" width="4.0" height="4.0" fill="#4b94f2"/><rect x="598.63" y="406.42" width="4.0" height="4.0" fill="#4b94f2"/><rect x="609.31" y="402.58" width="4.0" height="4.0" fill="#4b94f2"/><rect x="619.99" y="399.99" width="4.0" height="4.0" fill="#4b94f2"/><rect x="630.67" y="397.64" width="4.0" height="4.0" fill="#4b94f2"/><rect x="641.36" y="396.46" width="4.0" height="4.0" fill="#4b94f2"/><rect x="652.04" y="394.97" width="4.0" height="4.0" fill="#4b94f2"/><rect x="662.72" y="394.42" width="4.0" height="4.0" fill="#4b94f2"/><rect x="673.4" y="393.64" width="4.0" height="4.0" fill="#4b94f2"/><polyline points="504.5,420.97 515.18,411.48 525.86,405.13 536.54,397.68 547.23,390.77 557.91,384.81 568.59,381.13 579.27,377.05 589.95,373.52 600.63,370.38 611.31,368.11 621.99,366.3 632.67,364.42 643.36,363.87 654.04,363.48 664.72,363.17 675.4,363.48" stroke="#1a1a1a" stroke-width="1.0" fill="none"/><circle cx="504.5" cy="420.97" r="2.2" fill="#000000"/><circle cx="515.18" cy="411.48" r="2.2" fill="#000000"/><circle cx="525.86" cy="405.13" r="2.2" fill="#000000"/><circle cx="536.54" cy="397.68" r="2.2" fill="#000000"/><circle cx="547.23" cy="390.77" r="2.2" fill="#000000"/><circle cx="557.91" cy="384.81" r="2.2" fill="#000000"/><circle cx="568.59" cy="381.13" r="2.2" fill="#000000"/><circle cx="579.27" cy="377.05" r="2.2" fill="#000000"/><circle cx="589.95" cy="373.52" r="2.2" fill="#000000"/><circle cx="600.63" cy="370.38" r="2.2" fill="#000000"/><circle cx="611.31" cy="368.11" r="2.2" fill="#000000"/><circle cx="621.99" cy="366.3" r="2.2" fill="#000000"/><circle cx="632.67" cy="364.42" r="2.2" fill="#000000"/><circle cx="643.36" cy="363.87" r="2.2" fill="#000000"/><circle cx="654.04" cy="363.48" r="2.2" fill="#000000"/><circle cx="664.72" cy="363.17" r="2.2" fill="#000000"/><circle cx="675.4" cy="363.48" r="2.2" fill="#000000"/></g>
<g><path d="M230.1 469.2H240" stroke="#000" stroke-width="0.9"/><ellipse cx="235.3" cy="469" rx="3.4" ry="3.8" fill="#000"/><text transform="translate(245.2 474.1) scale(0.88 1)" class="lg" style="font-size:14px">Control</text><path d="M298.2 467.7H307.6" stroke="#7fb0ee" stroke-width="1"/><rect x="299.9" y="464.5" width="6" height="6.4" fill="#4a90ee"/><text transform="translate(312.5 472) scale(0.96 1)" class="lg" style="font-size:11.9px">MOI 1</text><path d="M362.9 468.4H373" stroke="#e05a5a" stroke-width="1"/><path d="M367.9 465.4L371 471.8H364.8Z" fill="#ee2a32"/><text transform="translate(378.1 473.3) scale(0.96 1)" class="lg" style="font-size:12.4px">MOI -1</text><path d="M428 469.2H437.6" stroke="#22aa22" stroke-width="1"/><path d="M433 472L436.1 466H429.9Z" fill="#14b414"/><text transform="translate(442.4 473.7) scale(0.96 1)" class="lg" style="font-size:11.9px">MOI -3</text></g>
</svg>
</body></html>
